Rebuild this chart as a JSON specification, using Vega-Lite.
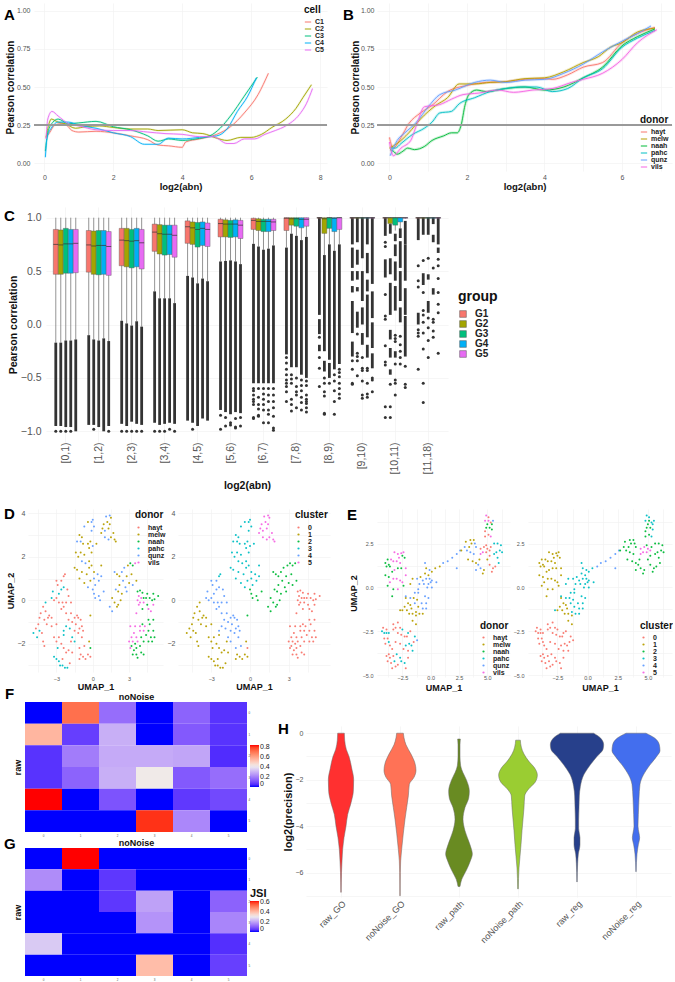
{"$schema":"https://vega.github.io/schema/vega-lite/v6.json","padding":{"left":-3,"top":0,"right":0,"bottom":0},"bounds":"flush","spacing":0,"background":"white","resolve":{"scale":{"color":"independent","fill":"independent"},"legend":{"color":"independent","fill":"independent"}},
"config":{"view":{"stroke":null},"font":"Liberation Sans","axis":{"domain":false,"ticks":false,"gridColor":"#f2f2f2","gridWidth":0.7,"labelColor":"#555555","labelFontSize":7,"titleFontWeight":"bold","titleFontSize":9.5,"titleColor":"#111111","labelFlush":false,"labelOverlap":false},"legend":{"padding":0,"titleFontWeight":"bold","titleColor":"#111111","labelFontWeight":"bold","labelColor":"#222222"},"title":{"fontSize":15,"fontWeight":"bold","color":"#000000","anchor":"start","frame":"group","offset":0,"baseline":"alphabetic"}},
"datasets":{
"a":[{"s":"C1","x":0.05,"y":0.17},{"s":"C1","x":0.15,"y":0.2},{"s":"C1","x":0.3,"y":0.25},{"s":"C1","x":0.5,"y":0.26},{"s":"C1","x":0.65,"y":0.25},{"s":"C1","x":0.8,"y":0.215},{"s":"C1","x":1,"y":0.205},{"s":"C1","x":1.5,"y":0.21},{"s":"C1","x":2,"y":0.2},{"s":"C1","x":2.5,"y":0.18},{"s":"C1","x":3,"y":0.155},{"s":"C1","x":3.3,"y":0.12},{"s":"C1","x":3.6,"y":0.115},{"s":"C1","x":4,"y":0.105},{"s":"C1","x":4.1,"y":0.14},{"s":"C1","x":4.5,"y":0.16},{"s":"C1","x":5,"y":0.19},{"s":"C1","x":5.4,"y":0.24},{"s":"C1","x":5.8,"y":0.33},{"s":"C1","x":6.2,"y":0.45},{"s":"C1","x":6.5,"y":0.59},
{"s":"C2","x":0.05,"y":0.17},{"s":"C2","x":0.15,"y":0.27},{"s":"C2","x":0.2,"y":0.29},{"s":"C2","x":0.4,"y":0.27},{"s":"C2","x":0.6,"y":0.26},{"s":"C2","x":0.9,"y":0.23},{"s":"C2","x":1.2,"y":0.24},{"s":"C2","x":1.6,"y":0.245},{"s":"C2","x":2,"y":0.235},{"s":"C2","x":2.5,"y":0.225},{"s":"C2","x":3,"y":0.225},{"s":"C2","x":3.3,"y":0.215},{"s":"C2","x":4,"y":0.22},{"s":"C2","x":4.3,"y":0.2},{"s":"C2","x":4.6,"y":0.195},{"s":"C2","x":5,"y":0.165},{"s":"C2","x":5.3,"y":0.15},{"s":"C2","x":5.7,"y":0.17},{"s":"C2","x":6,"y":0.17},{"s":"C2","x":6.3,"y":0.19},{"s":"C2","x":6.6,"y":0.235},{"s":"C2","x":7,"y":0.29},{"s":"C2","x":7.3,"y":0.36},{"s":"C2","x":7.5,"y":0.43},{"s":"C2","x":7.75,"y":0.515},
{"s":"C3","x":0.03,"y":0.08},{"s":"C3","x":0.1,"y":0.2},{"s":"C3","x":0.25,"y":0.27},{"s":"C3","x":0.4,"y":0.29},{"s":"C3","x":0.7,"y":0.26},{"s":"C3","x":1,"y":0.265},{"s":"C3","x":1.5,"y":0.275},{"s":"C3","x":2,"y":0.24},{"s":"C3","x":2.5,"y":0.22},{"s":"C3","x":3,"y":0.18},{"s":"C3","x":3.3,"y":0.145},{"s":"C3","x":3.6,"y":0.16},{"s":"C3","x":4,"y":0.15},{"s":"C3","x":4.4,"y":0.16},{"s":"C3","x":4.8,"y":0.18},{"s":"C3","x":5.1,"y":0.23},{"s":"C3","x":5.4,"y":0.31},{"s":"C3","x":5.8,"y":0.44},{"s":"C3","x":6.18,"y":0.565},
{"s":"C4","x":0.03,"y":0.04},{"s":"C4","x":0.08,"y":0.17},{"s":"C4","x":0.2,"y":0.23},{"s":"C4","x":0.4,"y":0.27},{"s":"C4","x":0.7,"y":0.27},{"s":"C4","x":1,"y":0.25},{"s":"C4","x":1.5,"y":0.23},{"s":"C4","x":2,"y":0.2},{"s":"C4","x":2.5,"y":0.175},{"s":"C4","x":2.9,"y":0.125},{"s":"C4","x":3.3,"y":0.125},{"s":"C4","x":3.6,"y":0.165},{"s":"C4","x":4,"y":0.16},{"s":"C4","x":4.5,"y":0.17},{"s":"C4","x":5,"y":0.18},{"s":"C4","x":5.3,"y":0.225},{"s":"C4","x":5.6,"y":0.34},{"s":"C4","x":5.9,"y":0.44},{"s":"C4","x":6.15,"y":0.56},
{"s":"C5","x":0.05,"y":0.16},{"s":"C5","x":0.1,"y":0.29},{"s":"C5","x":0.22,"y":0.34},{"s":"C5","x":0.4,"y":0.31},{"s":"C5","x":0.7,"y":0.26},{"s":"C5","x":1,"y":0.245},{"s":"C5","x":1.5,"y":0.22},{"s":"C5","x":2,"y":0.215},{"s":"C5","x":2.5,"y":0.215},{"s":"C5","x":3,"y":0.205},{"s":"C5","x":3.5,"y":0.195},{"s":"C5","x":4,"y":0.19},{"s":"C5","x":4.5,"y":0.175},{"s":"C5","x":4.9,"y":0.175},{"s":"C5","x":5.3,"y":0.13},{"s":"C5","x":5.5,"y":0.13},{"s":"C5","x":5.8,"y":0.16},{"s":"C5","x":6.1,"y":0.16},{"s":"C5","x":6.4,"y":0.19},{"s":"C5","x":6.7,"y":0.215},{"s":"C5","x":7,"y":0.245},{"s":"C5","x":7.4,"y":0.32},{"s":"C5","x":7.6,"y":0.39},{"s":"C5","x":7.78,"y":0.49}],
"b":[{"s":"hayt","x":0,"y":0.17},{"s":"hayt","x":0.1,"y":0.1},{"s":"hayt","x":0.3,"y":0.17},{"s":"hayt","x":0.5,"y":0.26},{"s":"hayt","x":0.8,"y":0.33},{"s":"hayt","x":1.1,"y":0.38},{"s":"hayt","x":1.5,"y":0.47},{"s":"hayt","x":2,"y":0.51},{"s":"hayt","x":2.5,"y":0.53},{"s":"hayt","x":3,"y":0.535},{"s":"hayt","x":3.5,"y":0.55},{"s":"hayt","x":4,"y":0.555},{"s":"hayt","x":4.2,"y":0.55},{"s":"hayt","x":4.6,"y":0.58},{"s":"hayt","x":5,"y":0.63},{"s":"hayt","x":5.5,"y":0.66},{"s":"hayt","x":6,"y":0.79},{"s":"hayt","x":6.4,"y":0.85},{"s":"hayt","x":6.85,"y":0.89},
{"s":"melw","x":0,"y":0.1},{"s":"melw","x":0.2,"y":0.13},{"s":"melw","x":0.5,"y":0.2},{"s":"melw","x":0.8,"y":0.29},{"s":"melw","x":1.2,"y":0.38},{"s":"melw","x":1.5,"y":0.43},{"s":"melw","x":1.8,"y":0.52},{"s":"melw","x":2.2,"y":0.52},{"s":"melw","x":2.6,"y":0.53},{"s":"melw","x":3,"y":0.535},{"s":"melw","x":3.5,"y":0.555},{"s":"melw","x":4,"y":0.56},{"s":"melw","x":4.5,"y":0.6},{"s":"melw","x":5,"y":0.66},{"s":"melw","x":5.4,"y":0.7},{"s":"melw","x":5.7,"y":0.76},{"s":"melw","x":6,"y":0.79},{"s":"melw","x":6.4,"y":0.86},{"s":"melw","x":6.85,"y":0.885},
{"s":"naah","x":0.02,"y":0.09},{"s":"naah","x":0.1,"y":0.08},{"s":"naah","x":0.2,"y":0.06},{"s":"naah","x":0.35,"y":0.08},{"s":"naah","x":0.47,"y":0.1},{"s":"naah","x":0.65,"y":0.09},{"s":"naah","x":0.9,"y":0.11},{"s":"naah","x":1.1,"y":0.15},{"s":"naah","x":1.4,"y":0.18},{"s":"naah","x":1.6,"y":0.2},{"s":"naah","x":1.75,"y":0.2},{"s":"naah","x":1.85,"y":0.25},{"s":"naah","x":1.95,"y":0.38},{"s":"naah","x":2.05,"y":0.45},{"s":"naah","x":2.25,"y":0.48},{"s":"naah","x":2.5,"y":0.47},{"s":"naah","x":3,"y":0.49},{"s":"naah","x":3.5,"y":0.5},{"s":"naah","x":4,"y":0.48},{"s":"naah","x":4.5,"y":0.5},{"s":"naah","x":5,"y":0.56},{"s":"naah","x":5.5,"y":0.63},{"s":"naah","x":6,"y":0.77},{"s":"naah","x":6.4,"y":0.83},{"s":"naah","x":6.85,"y":0.88},
{"s":"pahc","x":0.02,"y":0.1},{"s":"pahc","x":0.15,"y":0.1},{"s":"pahc","x":0.3,"y":0.13},{"s":"pahc","x":0.6,"y":0.19},{"s":"pahc","x":0.9,"y":0.23},{"s":"pahc","x":1.1,"y":0.27},{"s":"pahc","x":1.3,"y":0.33},{"s":"pahc","x":1.6,"y":0.34},{"s":"pahc","x":1.8,"y":0.39},{"s":"pahc","x":2.2,"y":0.43},{"s":"pahc","x":2.6,"y":0.47},{"s":"pahc","x":3,"y":0.49},{"s":"pahc","x":3.4,"y":0.5},{"s":"pahc","x":3.8,"y":0.5},{"s":"pahc","x":4.2,"y":0.47},{"s":"pahc","x":4.6,"y":0.49},{"s":"pahc","x":5,"y":0.56},{"s":"pahc","x":5.5,"y":0.62},{"s":"pahc","x":6,"y":0.76},{"s":"pahc","x":6.4,"y":0.82},{"s":"pahc","x":6.85,"y":0.87},
{"s":"qunz","x":0.02,"y":0.05},{"s":"qunz","x":0.2,"y":0.15},{"s":"qunz","x":0.4,"y":0.2},{"s":"qunz","x":0.7,"y":0.27},{"s":"qunz","x":1,"y":0.37},{"s":"qunz","x":1.3,"y":0.45},{"s":"qunz","x":1.7,"y":0.48},{"s":"qunz","x":2.2,"y":0.53},{"s":"qunz","x":2.6,"y":0.545},{"s":"qunz","x":3,"y":0.53},{"s":"qunz","x":3.5,"y":0.545},{"s":"qunz","x":4,"y":0.55},{"s":"qunz","x":4.5,"y":0.59},{"s":"qunz","x":5,"y":0.65},{"s":"qunz","x":5.5,"y":0.73},{"s":"qunz","x":6,"y":0.8},{"s":"qunz","x":6.4,"y":0.85},{"s":"qunz","x":6.75,"y":0.9},
{"s":"vils","x":0,"y":0.14},{"s":"vils","x":0.1,"y":0.05},{"s":"vils","x":0.3,"y":0.1},{"s":"vils","x":0.55,"y":0.15},{"s":"vils","x":0.7,"y":0.25},{"s":"vils","x":0.9,"y":0.37},{"s":"vils","x":1.3,"y":0.385},{"s":"vils","x":1.6,"y":0.42},{"s":"vils","x":1.9,"y":0.45},{"s":"vils","x":2.3,"y":0.46},{"s":"vils","x":2.8,"y":0.48},{"s":"vils","x":3.2,"y":0.465},{"s":"vils","x":3.7,"y":0.48},{"s":"vils","x":4.2,"y":0.49},{"s":"vils","x":4.7,"y":0.53},{"s":"vils","x":5,"y":0.55},{"s":"vils","x":5.5,"y":0.59},{"s":"vils","x":6,"y":0.68},{"s":"vils","x":6.4,"y":0.79},{"s":"vils","x":6.9,"y":0.875}],
"box":[{"b":"[0,1)","g":"G1","lo":-0.17,"q1":0.47,"m":0.75,"q3":0.89,"hi":1},{"b":"[0,1)","g":"G2","lo":-0.17,"q1":0.47,"m":0.745,"q3":0.885,"hi":1},{"b":"[0,1)","g":"G3","lo":-0.15,"q1":0.48,"m":0.755,"q3":0.9,"hi":1},{"b":"[0,1)","g":"G4","lo":-0.15,"q1":0.48,"m":0.755,"q3":0.89,"hi":1},{"b":"[0,1)","g":"G5","lo":-0.14,"q1":0.485,"m":0.76,"q3":0.89,"hi":1},
{"b":"[1,2)","g":"G1","lo":-0.1,"q1":0.49,"m":0.745,"q3":0.88,"hi":1},{"b":"[1,2)","g":"G2","lo":-0.14,"q1":0.47,"m":0.735,"q3":0.875,"hi":1},{"b":"[1,2)","g":"G3","lo":-0.15,"q1":0.465,"m":0.74,"q3":0.88,"hi":1},{"b":"[1,2)","g":"G4","lo":-0.13,"q1":0.47,"m":0.74,"q3":0.88,"hi":1},{"b":"[1,2)","g":"G5","lo":-0.155,"q1":0.46,"m":0.73,"q3":0.87,"hi":1},
{"b":"[2,3)","g":"G1","lo":0.035,"q1":0.55,"m":0.79,"q3":0.9,"hi":1},{"b":"[2,3)","g":"G2","lo":0.01,"q1":0.54,"m":0.785,"q3":0.9,"hi":1},{"b":"[2,3)","g":"G3","lo":-0.01,"q1":0.53,"m":0.78,"q3":0.89,"hi":1},{"b":"[2,3)","g":"G4","lo":0.03,"q1":0.54,"m":0.785,"q3":0.9,"hi":1},{"b":"[2,3)","g":"G5","lo":-0.02,"q1":0.52,"m":0.765,"q3":0.89,"hi":1},
{"b":"[3,4)","g":"G1","lo":0.31,"q1":0.685,"m":0.865,"q3":0.94,"hi":1},{"b":"[3,4)","g":"G2","lo":0.245,"q1":0.66,"m":0.85,"q3":0.935,"hi":1},{"b":"[3,4)","g":"G3","lo":0.245,"q1":0.65,"m":0.845,"q3":0.93,"hi":1},{"b":"[3,4)","g":"G4","lo":0.245,"q1":0.655,"m":0.845,"q3":0.93,"hi":1},{"b":"[3,4)","g":"G5","lo":0.2,"q1":0.63,"m":0.835,"q3":0.93,"hi":1},
{"b":"[4,5)","g":"G1","lo":0.455,"q1":0.76,"m":0.915,"q3":0.97,"hi":1},{"b":"[4,5)","g":"G2","lo":0.44,"q1":0.75,"m":0.905,"q3":0.96,"hi":1},{"b":"[4,5)","g":"G3","lo":0.385,"q1":0.725,"m":0.89,"q3":0.955,"hi":1},{"b":"[4,5)","g":"G4","lo":0.43,"q1":0.74,"m":0.9,"q3":0.96,"hi":1},{"b":"[4,5)","g":"G5","lo":0.405,"q1":0.73,"m":0.89,"q3":0.95,"hi":1},
{"b":"[5,6)","g":"G1","lo":0.59,"q1":0.82,"m":0.945,"q3":0.985,"hi":1},{"b":"[5,6)","g":"G2","lo":0.595,"q1":0.82,"m":0.94,"q3":0.98,"hi":1},{"b":"[5,6)","g":"G3","lo":0.6,"q1":0.815,"m":0.94,"q3":0.975,"hi":1},{"b":"[5,6)","g":"G4","lo":0.59,"q1":0.82,"m":0.94,"q3":0.98,"hi":1},{"b":"[5,6)","g":"G5","lo":0.565,"q1":0.805,"m":0.93,"q3":0.975,"hi":1},
{"b":"[6,7)","g":"G1","lo":0.755,"q1":0.89,"m":0.975,"q3":0.995,"hi":1},{"b":"[6,7)","g":"G2","lo":0.73,"q1":0.88,"m":0.965,"q3":0.99,"hi":1},{"b":"[6,7)","g":"G3","lo":0.7,"q1":0.87,"m":0.965,"q3":0.985,"hi":1},{"b":"[6,7)","g":"G4","lo":0.71,"q1":0.87,"m":0.965,"q3":0.985,"hi":1},{"b":"[6,7)","g":"G5","lo":0.74,"q1":0.88,"m":0.96,"q3":0.985,"hi":1},
{"b":"[7,8)","g":"G1","lo":0.72,"q1":0.88,"m":0.995,"q3":1,"hi":1},{"b":"[7,8)","g":"G2","lo":0.85,"q1":0.93,"m":0.99,"q3":1,"hi":1},{"b":"[7,8)","g":"G3","lo":0.83,"q1":0.92,"m":0.99,"q3":1,"hi":1},{"b":"[7,8)","g":"G4","lo":0.79,"q1":0.905,"m":0.985,"q3":1,"hi":1},{"b":"[7,8)","g":"G5","lo":0.82,"q1":0.92,"m":0.985,"q3":1,"hi":1},
{"b":"[8,9)","g":"G1","lo":0.99,"q1":0.995,"m":1,"q3":1,"hi":1},{"b":"[8,9)","g":"G2","lo":0.65,"q1":0.853,"m":0.99,"q3":1,"hi":1},{"b":"[8,9)","g":"G3","lo":0.75,"q1":0.9,"m":1,"q3":1,"hi":1},{"b":"[8,9)","g":"G4","lo":0.69,"q1":0.87,"m":0.995,"q3":1,"hi":1},{"b":"[8,9)","g":"G5","lo":0.75,"q1":0.89,"m":1,"q3":1,"hi":1},
{"b":"[9,10)","g":"G1","lo":0.99,"q1":0.995,"m":1,"q3":1,"hi":1},{"b":"[9,10)","g":"G2","lo":0.99,"q1":0.995,"m":1,"q3":1,"hi":1},{"b":"[9,10)","g":"G3","lo":0.99,"q1":0.995,"m":1,"q3":1,"hi":1},{"b":"[9,10)","g":"G4","lo":0.99,"q1":0.995,"m":1,"q3":1,"hi":1},{"b":"[9,10)","g":"G5","lo":0.99,"q1":0.995,"m":1,"q3":1,"hi":1},
{"b":"[10,11)","g":"G1","lo":0.99,"q1":0.995,"m":1,"q3":1,"hi":1},{"b":"[10,11)","g":"G2","lo":0.94,"q1":0.945,"m":1,"q3":1,"hi":1},{"b":"[10,11)","g":"G3","lo":0.88,"q1":0.93,"m":1,"q3":1,"hi":1},{"b":"[10,11)","g":"G4","lo":0.9,"q1":0.96,"m":1,"q3":1,"hi":1},{"b":"[10,11)","g":"G5","lo":0.99,"q1":0.995,"m":1,"q3":1,"hi":1},
{"b":"[11,18)","g":"G1","lo":0.99,"q1":0.995,"m":1,"q3":1,"hi":1},{"b":"[11,18)","g":"G2","lo":0.99,"q1":0.995,"m":1,"q3":1,"hi":1},{"b":"[11,18)","g":"G3","lo":0.99,"q1":0.995,"m":1,"q3":1,"hi":1},{"b":"[11,18)","g":"G4","lo":0.99,"q1":0.995,"m":1,"q3":1,"hi":1},{"b":"[11,18)","g":"G5","lo":0.99,"q1":0.995,"m":1,"q3":1,"hi":1}],
"seg":[{"b":"[0,1)","g":"G1","a":-0.17,"z":-0.95},{"b":"[0,1)","g":"G2","a":-0.17,"z":-0.95},{"b":"[0,1)","g":"G3","a":-0.15,"z":-0.96},{"b":"[0,1)","g":"G4","a":-0.15,"z":-0.96},{"b":"[0,1)","g":"G5","a":-0.14,"z":-1},
{"b":"[1,2)","g":"G1","a":-0.1,"z":-0.94},{"b":"[1,2)","g":"G2","a":-0.14,"z":-0.94},{"b":"[1,2)","g":"G3","a":-0.15,"z":-0.96},{"b":"[1,2)","g":"G4","a":-0.13,"z":-1},{"b":"[1,2)","g":"G5","a":-0.155,"z":-0.95},
{"b":"[2,3)","g":"G1","a":0.035,"z":-0.93},{"b":"[2,3)","g":"G2","a":0.01,"z":-0.95},{"b":"[2,3)","g":"G3","a":-0.01,"z":-0.91},{"b":"[2,3)","g":"G4","a":0.03,"z":-0.93},{"b":"[2,3)","g":"G5","a":-0.02,"z":-0.94},
{"b":"[3,4)","g":"G1","a":0.31,"z":-0.92},{"b":"[3,4)","g":"G2","a":0.245,"z":-0.94},{"b":"[3,4)","g":"G3","a":0.245,"z":-0.93},{"b":"[3,4)","g":"G4","a":0.245,"z":-0.92},{"b":"[3,4)","g":"G5","a":0.2,"z":-0.93},
{"b":"[4,5)","g":"G1","a":0.455,"z":-0.9},{"b":"[4,5)","g":"G2","a":0.44,"z":-0.92},{"b":"[4,5)","g":"G3","a":0.385,"z":-0.95},{"b":"[4,5)","g":"G4","a":0.43,"z":-0.88},{"b":"[4,5)","g":"G5","a":0.405,"z":-0.9},
{"b":"[5,6)","g":"G1","a":0.59,"z":-0.8},{"b":"[5,6)","g":"G2","a":0.595,"z":-0.82},{"b":"[5,6)","g":"G3","a":0.6,"z":-0.84},{"b":"[5,6)","g":"G4","a":0.59,"z":-0.82},{"b":"[5,6)","g":"G5","a":0.565,"z":-0.83},
{"b":"[6,7)","g":"G1","a":0.755,"z":-0.55},{"b":"[6,7)","g":"G2","a":0.73,"z":-0.55},{"b":"[6,7)","g":"G3","a":0.7,"z":-0.55},{"b":"[6,7)","g":"G4","a":0.71,"z":-0.55},{"b":"[6,7)","g":"G5","a":0.74,"z":-0.55},
{"b":"[7,8)","g":"G1","a":0.72,"z":-0.28},{"b":"[7,8)","g":"G2","a":0.85,"z":-0.4},{"b":"[7,8)","g":"G3","a":0.83,"z":-0.4},{"b":"[7,8)","g":"G4","a":0.79,"z":-0.47},{"b":"[7,8)","g":"G5","a":0.82,"z":-0.5},
{"b":"[8,9)","g":"G1","a":1,"z":0.09},{"b":"[8,9)","g":"G1","a":0.05,"z":-0.09},{"b":"[8,9)","g":"G1","a":-0.19,"z":-0.25},{"b":"[8,9)","g":"G2","a":0.65,"z":-0.25},{"b":"[8,9)","g":"G2","a":-0.34,"z":-0.44},{"b":"[8,9)","g":"G3","a":0.75,"z":-0.33},{"b":"[8,9)","g":"G3","a":-0.36,"z":-0.5},{"b":"[8,9)","g":"G4","a":0.69,"z":-0.42},{"b":"[8,9)","g":"G5","a":0.75,"z":-0.37},
{"b":"[9,10)","g":"G1","a":1,"z":0.75},{"b":"[9,10)","g":"G1","a":0.72,"z":0.53},{"b":"[9,10)","g":"G1","a":0.5,"z":0.41},{"b":"[9,10)","g":"G1","a":0.36,"z":0.3},{"b":"[9,10)","g":"G1","a":0.22,"z":-0.08},{"b":"[9,10)","g":"G1","a":-0.16,"z":-0.3},
{"b":"[9,10)","g":"G2","a":1,"z":0.77},{"b":"[9,10)","g":"G2","a":0.7,"z":0.56},{"b":"[9,10)","g":"G2","a":0.5,"z":0.42},{"b":"[9,10)","g":"G2","a":0.35,"z":0.31},{"b":"[9,10)","g":"G2","a":0.12,"z":-0.03},
{"b":"[9,10)","g":"G3","a":1,"z":0.62},{"b":"[9,10)","g":"G3","a":0.5,"z":0.22},{"b":"[9,10)","g":"G3","a":0.16,"z":0},{"b":"[9,10)","g":"G3","a":-0.08,"z":-0.19},
{"b":"[9,10)","g":"G4","a":1,"z":0.75},{"b":"[9,10)","g":"G4","a":0.67,"z":0.48},{"b":"[9,10)","g":"G4","a":0.42,"z":0.31},{"b":"[9,10)","g":"G4","a":0.28,"z":-0.12},{"b":"[9,10)","g":"G4","a":-0.19,"z":-0.31},
{"b":"[9,10)","g":"G5","a":1,"z":0.38},{"b":"[9,10)","g":"G5","a":0.31,"z":0.06},{"b":"[9,10)","g":"G5","a":0.02,"z":-0.22},{"b":"[9,10)","g":"G5","a":-0.27,"z":-0.41},
{"b":"[10,11)","g":"G1","a":1,"z":0.83},{"b":"[10,11)","g":"G1","a":0.61,"z":0.44},{"b":"[10,11)","g":"G2","a":0.94,"z":0.85},{"b":"[10,11)","g":"G2","a":0.62,"z":0.47},{"b":"[10,11)","g":"G2","a":0.39,"z":0.09},{"b":"[10,11)","g":"G2","a":-0.05,"z":-0.14},{"b":"[10,11)","g":"G2","a":-0.22,"z":-0.31},{"b":"[10,11)","g":"G2","a":-0.42,"z":-0.47},
{"b":"[10,11)","g":"G3","a":0.85,"z":0.78},{"b":"[10,11)","g":"G3","a":0.75,"z":0.64},{"b":"[10,11)","g":"G3","a":0.59,"z":0.41},{"b":"[10,11)","g":"G3","a":0.36,"z":0.13},{"b":"[10,11)","g":"G3","a":-0.25,"z":-0.31},
{"b":"[10,11)","g":"G4","a":0.9,"z":0.81},{"b":"[10,11)","g":"G4","a":0.78,"z":0.53},{"b":"[10,11)","g":"G4","a":0.5,"z":0.22},{"b":"[10,11)","g":"G4","a":0.16,"z":0.02},
{"b":"[10,11)","g":"G5","a":0.97,"z":0.75},{"b":"[10,11)","g":"G5","a":0.75,"z":0.41},{"b":"[10,11)","g":"G5","a":0.34,"z":0.09},{"b":"[10,11)","g":"G5","a":0.08,"z":-0.3},
{"b":"[11,18)","g":"G1","a":1,"z":0.79},{"b":"[11,18)","g":"G1","a":0.11,"z":0},{"b":"[11,18)","g":"G2","a":1,"z":0.84},{"b":"[11,18)","g":"G2","a":0.48,"z":0.37},{"b":"[11,18)","g":"G3","a":1,"z":0.84},{"b":"[11,18)","g":"G3","a":0.47,"z":0.42},{"b":"[11,18)","g":"G3","a":0.22,"z":0.11},{"b":"[11,18)","g":"G4","a":1,"z":0.94},{"b":"[11,18)","g":"G4","a":0.84,"z":0.77},{"b":"[11,18)","g":"G4","a":0.34,"z":0.28},{"b":"[11,18)","g":"G5","a":1,"z":0.75},{"b":"[11,18)","g":"G5","a":0.72,"z":0.67}],
"pts":[{"b":"[0,1)","g":"G1","v":-1},{"b":"[0,1)","g":"G2","v":-1},{"b":"[0,1)","g":"G3","v":-1},{"b":"[0,1)","g":"G4","v":-1},{"b":"[1,2)","g":"G2","v":-0.98},{"b":"[1,2)","g":"G5","v":-1},{"b":"[2,3)","g":"G1","v":-1},{"b":"[2,3)","g":"G2","v":-1},{"b":"[2,3)","g":"G3","v":-1},{"b":"[2,3)","g":"G4","v":-1},{"b":"[2,3)","g":"G5","v":-1},{"b":"[3,4)","g":"G1","v":-1},{"b":"[3,4)","g":"G2","v":-1},{"b":"[3,4)","g":"G3","v":-1},{"b":"[3,4)","g":"G4","v":-0.98},{"b":"[3,4)","g":"G5","v":-1},{"b":"[4,5)","g":"G2","v":-0.98},{"b":"[5,6)","g":"G1","v":-0.98},{"b":"[5,6)","g":"G1","v":-0.85},{"b":"[5,6)","g":"G2","v":-0.95},{"b":"[5,6)","g":"G2","v":-0.87},{"b":"[5,6)","g":"G3","v":-0.92},{"b":"[5,6)","g":"G3","v":-0.94},{"b":"[5,6)","g":"G4","v":-0.88},{"b":"[5,6)","g":"G4","v":-0.96},{"b":"[5,6)","g":"G4","v":-0.97},{"b":"[5,6)","g":"G5","v":-0.87},{"b":"[5,6)","g":"G5","v":-0.95},
{"b":"[6,7)","g":"G1","v":-0.6},{"b":"[6,7)","g":"G1","v":-0.62},{"b":"[6,7)","g":"G1","v":-0.66},{"b":"[6,7)","g":"G1","v":-0.7},{"b":"[6,7)","g":"G1","v":-0.72},{"b":"[6,7)","g":"G1","v":-0.75},{"b":"[6,7)","g":"G1","v":-0.87},{"b":"[6,7)","g":"G1","v":-0.88},{"b":"[6,7)","g":"G2","v":-0.6},{"b":"[6,7)","g":"G2","v":-0.68},{"b":"[6,7)","g":"G2","v":-0.75},{"b":"[6,7)","g":"G2","v":-0.79},{"b":"[6,7)","g":"G2","v":-0.85},{"b":"[6,7)","g":"G2","v":-0.86},{"b":"[6,7)","g":"G3","v":-0.6},{"b":"[6,7)","g":"G3","v":-0.65},{"b":"[6,7)","g":"G3","v":-0.7},{"b":"[6,7)","g":"G3","v":-0.75},{"b":"[6,7)","g":"G3","v":-0.8},{"b":"[6,7)","g":"G3","v":-0.92},{"b":"[6,7)","g":"G4","v":-0.6},{"b":"[6,7)","g":"G4","v":-0.66},{"b":"[6,7)","g":"G4","v":-0.72},{"b":"[6,7)","g":"G4","v":-0.8},{"b":"[6,7)","g":"G4","v":-0.84},{"b":"[6,7)","g":"G4","v":-0.92},{"b":"[6,7)","g":"G5","v":-0.6},{"b":"[6,7)","g":"G5","v":-0.66},{"b":"[6,7)","g":"G5","v":-0.72},{"b":"[6,7)","g":"G5","v":-0.78},{"b":"[6,7)","g":"G5","v":-0.86},{"b":"[6,7)","g":"G5","v":-0.97},{"b":"[6,7)","g":"G5","v":-0.99},
{"b":"[7,8)","g":"G1","v":-0.31},{"b":"[7,8)","g":"G1","v":-0.36},{"b":"[7,8)","g":"G1","v":-0.42},{"b":"[7,8)","g":"G1","v":-0.47},{"b":"[7,8)","g":"G1","v":-0.52},{"b":"[7,8)","g":"G1","v":-0.55},{"b":"[7,8)","g":"G1","v":-0.58},{"b":"[7,8)","g":"G1","v":-0.63},{"b":"[7,8)","g":"G1","v":-0.72},{"b":"[7,8)","g":"G2","v":-0.47},{"b":"[7,8)","g":"G2","v":-0.51},{"b":"[7,8)","g":"G2","v":-0.55},{"b":"[7,8)","g":"G2","v":-0.7},{"b":"[7,8)","g":"G2","v":-0.75},{"b":"[7,8)","g":"G2","v":-0.81},{"b":"[7,8)","g":"G3","v":-0.5},{"b":"[7,8)","g":"G3","v":-0.58},{"b":"[7,8)","g":"G3","v":-0.63},{"b":"[7,8)","g":"G3","v":-0.66},{"b":"[7,8)","g":"G3","v":-0.78},{"b":"[7,8)","g":"G4","v":-0.52},{"b":"[7,8)","g":"G4","v":-0.57},{"b":"[7,8)","g":"G4","v":-0.62},{"b":"[7,8)","g":"G4","v":-0.68},{"b":"[7,8)","g":"G4","v":-0.73},{"b":"[7,8)","g":"G4","v":-0.8},{"b":"[7,8)","g":"G5","v":-0.53},{"b":"[7,8)","g":"G5","v":-0.57},{"b":"[7,8)","g":"G5","v":-0.66},{"b":"[7,8)","g":"G5","v":-0.7},{"b":"[7,8)","g":"G5","v":-0.72},{"b":"[7,8)","g":"G5","v":-0.74},{"b":"[7,8)","g":"G5","v":-0.78},{"b":"[7,8)","g":"G5","v":-0.82},
{"b":"[8,9)","g":"G1","v":-0.12},{"b":"[8,9)","g":"G1","v":-0.31},{"b":"[8,9)","g":"G1","v":-0.41},{"b":"[8,9)","g":"G1","v":-0.58},{"b":"[8,9)","g":"G2","v":-0.5},{"b":"[8,9)","g":"G2","v":-0.55},{"b":"[8,9)","g":"G2","v":-0.63},{"b":"[8,9)","g":"G2","v":-0.67},{"b":"[8,9)","g":"G2","v":-0.83},{"b":"[8,9)","g":"G2","v":-0.84},{"b":"[8,9)","g":"G3","v":-0.55},{"b":"[8,9)","g":"G4","v":-0.47},{"b":"[8,9)","g":"G4","v":-0.53},{"b":"[8,9)","g":"G4","v":-0.62},{"b":"[8,9)","g":"G4","v":-0.72},{"b":"[8,9)","g":"G4","v":-0.84},{"b":"[8,9)","g":"G5","v":-0.42},{"b":"[8,9)","g":"G5","v":-0.45},{"b":"[8,9)","g":"G5","v":-0.49},{"b":"[8,9)","g":"G5","v":-0.55},{"b":"[8,9)","g":"G5","v":-0.6},{"b":"[8,9)","g":"G5","v":-0.65},{"b":"[8,9)","g":"G5","v":-0.69},
{"b":"[9,10)","g":"G1","v":-0.34},{"b":"[9,10)","g":"G1","v":-0.42},{"b":"[9,10)","g":"G1","v":-0.55},{"b":"[9,10)","g":"G1","v":-0.56},{"b":"[9,10)","g":"G2","v":-0.09},{"b":"[9,10)","g":"G2","v":-0.27},{"b":"[9,10)","g":"G2","v":-0.3},{"b":"[9,10)","g":"G2","v":-0.34},{"b":"[9,10)","g":"G2","v":-0.48},{"b":"[9,10)","g":"G3","v":-0.31},{"b":"[9,10)","g":"G3","v":-0.41},{"b":"[9,10)","g":"G3","v":-0.43},{"b":"[9,10)","g":"G3","v":-0.53},{"b":"[9,10)","g":"G3","v":-0.66},{"b":"[9,10)","g":"G3","v":-0.69},{"b":"[9,10)","g":"G4","v":-0.41},{"b":"[9,10)","g":"G4","v":-0.43},{"b":"[9,10)","g":"G4","v":-0.55},{"b":"[9,10)","g":"G4","v":-0.65},{"b":"[9,10)","g":"G4","v":-0.68},{"b":"[9,10)","g":"G5","v":-0.5},{"b":"[9,10)","g":"G5","v":-0.52},{"b":"[9,10)","g":"G5","v":-0.63},
{"b":"[10,11)","g":"G1","v":0.77},{"b":"[10,11)","g":"G1","v":0.73},{"b":"[10,11)","g":"G1","v":0.28},{"b":"[10,11)","g":"G1","v":0.08},{"b":"[10,11)","g":"G1","v":0.05},{"b":"[10,11)","g":"G1","v":-0.2},{"b":"[10,11)","g":"G1","v":-0.35},{"b":"[10,11)","g":"G1","v":-0.38},{"b":"[10,11)","g":"G1","v":-0.77},{"b":"[10,11)","g":"G1","v":-0.87},{"b":"[10,11)","g":"G2","v":-0.56},{"b":"[10,11)","g":"G2","v":-0.77},{"b":"[10,11)","g":"G2","v":-0.87},{"b":"[10,11)","g":"G3","v":-0.1},{"b":"[10,11)","g":"G3","v":-0.13},{"b":"[10,11)","g":"G3","v":-0.16},{"b":"[10,11)","g":"G3","v":-0.37},{"b":"[10,11)","g":"G3","v":-0.52},{"b":"[10,11)","g":"G3","v":-0.55},{"b":"[10,11)","g":"G3","v":-0.66},{"b":"[10,11)","g":"G4","v":-0.11},{"b":"[10,11)","g":"G4","v":-0.19},{"b":"[10,11)","g":"G4","v":-0.25},{"b":"[10,11)","g":"G4","v":-0.31},{"b":"[10,11)","g":"G4","v":-0.37},{"b":"[10,11)","g":"G5","v":-0.39},{"b":"[10,11)","g":"G5","v":-0.56},{"b":"[10,11)","g":"G5","v":-0.59},
{"b":"[11,18)","g":"G1","v":0.55},{"b":"[11,18)","g":"G1","v":0.41},{"b":"[11,18)","g":"G1","v":0.35},{"b":"[11,18)","g":"G1","v":-0.05},{"b":"[11,18)","g":"G1","v":-0.08},{"b":"[11,18)","g":"G1","v":-0.11},{"b":"[11,18)","g":"G1","v":-0.42},{"b":"[11,18)","g":"G2","v":0.6},{"b":"[11,18)","g":"G2","v":0.3},{"b":"[11,18)","g":"G2","v":0.13},{"b":"[11,18)","g":"G2","v":0.09},{"b":"[11,18)","g":"G2","v":0.02},{"b":"[11,18)","g":"G2","v":-0.08},{"b":"[11,18)","g":"G2","v":-0.23},{"b":"[11,18)","g":"G2","v":-0.55},{"b":"[11,18)","g":"G2","v":-0.73},{"b":"[11,18)","g":"G3","v":0.62},{"b":"[11,18)","g":"G3","v":0.06},{"b":"[11,18)","g":"G3","v":-0.03},{"b":"[11,18)","g":"G3","v":-0.15},{"b":"[11,18)","g":"G3","v":-0.31},{"b":"[11,18)","g":"G4","v":0.53},{"b":"[11,18)","g":"G4","v":0.05},{"b":"[11,18)","g":"G4","v":0.02},{"b":"[11,18)","g":"G4","v":-0.06},{"b":"[11,18)","g":"G4","v":-0.12},{"b":"[11,18)","g":"G5","v":0.61},{"b":"[11,18)","g":"G5","v":0.55},{"b":"[11,18)","g":"G5","v":0.43},{"b":"[11,18)","g":"G5","v":0.3},{"b":"[11,18)","g":"G5","v":0.19},{"b":"[11,18)","g":"G5","v":0.11},{"b":"[11,18)","g":"G5","v":-0.27}],
"d":[{"x":-4.9,"y":-1.5,"d":"pahc","c":"1"},{"x":-4.7,"y":-1.3,"d":"hayt","c":"1"},{"x":-4.6,"y":-1.7,"d":"pahc","c":"1"},{"x":-4.5,"y":-1.1,"d":"hayt","c":"1"},{"x":-4.4,"y":-0.8,"d":"hayt","c":"1"},{"x":-4.4,"y":-1.4,"d":"pahc","c":"1"},{"x":-4.3,"y":-0.6,"d":"hayt","c":"1"},{"x":-4.2,"y":-1.5,"d":"hayt","c":"1"},{"x":-4.1,"y":-0.3,"d":"hayt","c":"1"},{"x":-4,"y":-0.9,"d":"hayt","c":"1"},{"x":-3.9,"y":-0.5,"d":"hayt","c":"1"},{"x":-3.8,"y":-1.1,"d":"hayt","c":"1"},{"x":-3.7,"y":-0.8,"d":"hayt","c":"1"},{"x":-3.6,"y":-0.7,"d":"hayt","c":"1"},{"x":-3.4,"y":-0.8,"d":"hayt","c":"1"},{"x":-3.9,"y":-0.1,"d":"pahc","c":"1"},{"x":-4.1,"y":-1.9,"d":"hayt","c":"1"},{"x":-4,"y":-2.1,"d":"hayt","c":"1"},{"x":-3.4,"y":-1.2,"d":"hayt","c":"1"},{"x":-3,"y":-1.1,"d":"hayt","c":"1"},{"x":-3.2,"y":-1.7,"d":"hayt","c":"1"},{"x":-3,"y":-1.9,"d":"hayt","c":"1"},{"x":-2.8,"y":-1.7,"d":"hayt","c":"1"},{"x":-2.9,"y":-2.2,"d":"pahc","c":"1"},{"x":-2.6,"y":-2,"d":"hayt","c":"1"},{"x":-2.4,"y":-2.2,"d":"hayt","c":"1"},{"x":-2.4,"y":-1.6,"d":"pahc","c":"1"},{"x":-2.2,"y":-2.4,"d":"hayt","c":"1"},{"x":-2,"y":-2.3,"d":"hayt","c":"1"},{"x":-1.8,"y":-1.9,"d":"hayt","c":"1"},{"x":-1.7,"y":-2.4,"d":"hayt","c":"1"},{"x":-3.2,"y":-2.6,"d":"pahc","c":"1"},{"x":-3,"y":-2.7,"d":"pahc","c":"1"},{"x":-2.8,"y":-2.8,"d":"pahc","c":"1"},{"x":-2.7,"y":-3,"d":"pahc","c":"1"},{"x":-2.5,"y":-3,"d":"pahc","c":"1"},{"x":-2.3,"y":-3.1,"d":"pahc","c":"1"},{"x":-2.1,"y":-3.1,"d":"pahc","c":"1"},{"x":-2.5,"y":-2.7,"d":"hayt","c":"1"},{"x":-1.9,"y":-2.9,"d":"hayt","c":"1"},{"x":-1.1,"y":-2.7,"d":"hayt","c":"1"},{"x":-1,"y":-2.5,"d":"hayt","c":"1"},{"x":-0.8,"y":-2.6,"d":"hayt","c":"1"},{"x":-0.6,"y":-2.7,"d":"hayt","c":"1"},{"x":-0.4,"y":-2.5,"d":"hayt","c":"1"},{"x":-0.2,"y":-2.6,"d":"hayt","c":"1"},
{"x":-2.2,"y":-0.6,"d":"hayt","c":"4"},{"x":-2,"y":-0.9,"d":"hayt","c":"4"},{"x":-1.8,"y":-0.6,"d":"hayt","c":"4"},{"x":-1.7,"y":-1,"d":"hayt","c":"4"},{"x":-2.2,"y":-1.2,"d":"pahc","c":"4"},{"x":-2.4,"y":-1.4,"d":"pahc","c":"4"},{"x":-1.9,"y":-1.3,"d":"pahc","c":"4"},{"x":-1.5,"y":-0.8,"d":"hayt","c":"4"},{"x":-1.4,"y":-1.1,"d":"hayt","c":"4"},{"x":-1.3,"y":-0.7,"d":"hayt","c":"4"},{"x":-1.2,"y":-0.8,"d":"hayt","c":"4"},{"x":-1.1,"y":-1.3,"d":"hayt","c":"4"},{"x":-1,"y":-0.9,"d":"hayt","c":"4"},{"x":-0.9,"y":-1.2,"d":"hayt","c":"4"},{"x":-0.8,"y":-1.4,"d":"hayt","c":"4"},{"x":-1.5,"y":-1.4,"d":"hayt","c":"4"},{"x":-1.2,"y":-1.5,"d":"hayt","c":"4"},{"x":-1.7,"y":-1.7,"d":"pahc","c":"4"},{"x":-0.9,"y":-1.7,"d":"hayt","c":"4"},{"x":-0.7,"y":-2.1,"d":"hayt","c":"4"},{"x":-1.1,"y":-2.2,"d":"hayt","c":"4"},{"x":-1.5,"y":-1.9,"d":"pahc","c":"4"},{"x":-3,"y":0.9,"d":"hayt","c":"4"},{"x":-2.9,"y":0.7,"d":"hayt","c":"4"},{"x":-2.6,"y":0.9,"d":"hayt","c":"4"},{"x":-3.3,"y":0.4,"d":"pahc","c":"4"},{"x":-3.4,"y":0.1,"d":"pahc","c":"4"},{"x":-3.2,"y":0,"d":"hayt","c":"4"},{"x":-3,"y":0.1,"d":"hayt","c":"4"},{"x":-2.8,"y":0.3,"d":"pahc","c":"4"},{"x":-2.6,"y":0.5,"d":"pahc","c":"4"},{"x":-2.4,"y":0.6,"d":"pahc","c":"4"},{"x":-2.8,"y":-0.1,"d":"hayt","c":"4"},{"x":-2.5,"y":-0.1,"d":"hayt","c":"4"},{"x":-2.4,"y":-0.3,"d":"hayt","c":"4"},{"x":-2.2,"y":-0.1,"d":"hayt","c":"4"},{"x":-2.1,"y":0.5,"d":"hayt","c":"4"},{"x":-2,"y":0.2,"d":"hayt","c":"4"},{"x":-1.8,"y":-0.1,"d":"hayt","c":"4"},{"x":-2.6,"y":-0.4,"d":"hayt","c":"4"},
{"x":-2.4,"y":1.1,"d":"hayt","c":"3"},{"x":-2.3,"y":1.2,"d":"hayt","c":"3"},{"x":-1.1,"y":3,"d":"melw","c":"3"},{"x":-0.9,"y":2.9,"d":"melw","c":"3"},{"x":-1,"y":2.7,"d":"qunz","c":"3"},{"x":-1.3,"y":2.7,"d":"qunz","c":"3"},{"x":-0.8,"y":2.6,"d":"melw","c":"3"},{"x":-0.4,"y":2.6,"d":"melw","c":"3"},{"x":-0.2,"y":2.7,"d":"melw","c":"3"},{"x":-1.4,"y":2.2,"d":"melw","c":"3"},{"x":-1,"y":2.2,"d":"melw","c":"3"},{"x":-0.7,"y":2.1,"d":"melw","c":"3"},{"x":-1.2,"y":2,"d":"melw","c":"3"},{"x":-0.3,"y":2.4,"d":"melw","c":"3"},{"x":-0.1,"y":2.2,"d":"melw","c":"3"},{"x":0,"y":2.5,"d":"qunz","c":"3"},{"x":0.3,"y":2.6,"d":"melw","c":"3"},{"x":-0.9,"y":1.8,"d":"qunz","c":"3"},{"x":-0.6,"y":1.7,"d":"qunz","c":"3"},{"x":-0.3,"y":1.8,"d":"melw","c":"3"},{"x":-0.1,"y":1.6,"d":"melw","c":"3"},{"x":-1.5,"y":1.5,"d":"melw","c":"3"},{"x":-1.3,"y":1.4,"d":"melw","c":"3"},{"x":-0.9,"y":1.3,"d":"melw","c":"3"},{"x":-0.5,"y":1.2,"d":"melw","c":"3"},{"x":-0.3,"y":1.5,"d":"melw","c":"3"},{"x":0.1,"y":1.3,"d":"melw","c":"3"},{"x":-1.1,"y":1,"d":"melw","c":"3"},{"x":-0.7,"y":0.8,"d":"melw","c":"3"},{"x":-0.4,"y":0.6,"d":"qunz","c":"3"},{"x":-0.2,"y":0.9,"d":"melw","c":"3"},{"x":0.1,"y":1,"d":"qunz","c":"3"},{"x":0.2,"y":0.7,"d":"qunz","c":"3"},{"x":0.4,"y":1.2,"d":"qunz","c":"3"},{"x":0.5,"y":0.9,"d":"qunz","c":"3"},{"x":0.7,"y":1.1,"d":"qunz","c":"3"},{"x":0.7,"y":1.6,"d":"melw","c":"3"},{"x":-0.7,"y":3.4,"d":"qunz","c":"3"},{"x":-0.4,"y":3.6,"d":"melw","c":"3"},{"x":-0.1,"y":3.6,"d":"qunz","c":"3"},{"x":0,"y":3.7,"d":"qunz","c":"3"},{"x":0.1,"y":3.4,"d":"qunz","c":"3"},{"x":-0.1,"y":3.2,"d":"qunz","c":"3"},
{"x":0,"y":0.5,"d":"qunz","c":"2"},{"x":0.1,"y":0.3,"d":"qunz","c":"2"},{"x":0.2,"y":0.1,"d":"qunz","c":"2"},{"x":0.5,"y":0.2,"d":"qunz","c":"2"},{"x":0.6,"y":0,"d":"qunz","c":"2"},{"x":0.9,"y":0.4,"d":"qunz","c":"2"},{"x":1.8,"y":1.3,"d":"qunz","c":"2"},{"x":2,"y":1.2,"d":"melw","c":"2"},{"x":2.2,"y":1.1,"d":"melw","c":"2"},{"x":2.4,"y":1.3,"d":"qunz","c":"2"},{"x":2.6,"y":1.5,"d":"qunz","c":"2"},{"x":2.9,"y":1.6,"d":"melw","c":"2"},{"x":3.1,"y":1.7,"d":"naah","c":"2"},{"x":2.8,"y":1.1,"d":"melw","c":"2"},{"x":3.3,"y":1.6,"d":"naah","c":"2"},{"x":3.5,"y":1.7,"d":"vils","c":"2"},{"x":3.2,"y":1.2,"d":"melw","c":"2"},{"x":2.5,"y":0.9,"d":"qunz","c":"2"},{"x":3,"y":0.8,"d":"melw","c":"2"},{"x":2.2,"y":0.7,"d":"melw","c":"2"},{"x":2.7,"y":0.6,"d":"qunz","c":"2"},{"x":3.3,"y":0.7,"d":"qunz","c":"2"},{"x":3.6,"y":0.9,"d":"melw","c":"2"},{"x":2.1,"y":0.4,"d":"melw","c":"2"},{"x":2.4,"y":0.3,"d":"melw","c":"2"},{"x":1.9,"y":0.5,"d":"qunz","c":"2"},{"x":2.8,"y":0.4,"d":"qunz","c":"2"},{"x":1.6,"y":0.1,"d":"melw","c":"2"},{"x":1.8,"y":-0.1,"d":"melw","c":"2"},{"x":2,"y":-0.3,"d":"melw","c":"2"},{"x":1.4,"y":-0.3,"d":"qunz","c":"2"},{"x":1.6,"y":-0.5,"d":"qunz","c":"2"},{"x":2.1,"y":-0.2,"d":"melw","c":"2"},{"x":2.3,"y":0,"d":"melw","c":"2"},
{"x":1.1,"y":3.85,"d":"qunz","c":"5"},{"x":1.4,"y":3.9,"d":"qunz","c":"5"},{"x":1.5,"y":3.8,"d":"melw","c":"5"},{"x":1.2,"y":3.6,"d":"melw","c":"5"},{"x":0.9,"y":3.5,"d":"melw","c":"5"},{"x":1.4,"y":3.5,"d":"melw","c":"5"},{"x":0.8,"y":3.3,"d":"melw","c":"5"},{"x":1,"y":3.2,"d":"qunz","c":"5"},{"x":1.3,"y":3.3,"d":"melw","c":"5"},{"x":0.7,"y":3.1,"d":"melw","c":"5"},{"x":1.7,"y":3.1,"d":"melw","c":"5"},{"x":1,"y":2.9,"d":"qunz","c":"5"},{"x":1.5,"y":2.9,"d":"melw","c":"5"},{"x":1.8,"y":2.8,"d":"melw","c":"5"},{"x":1.9,"y":2.7,"d":"melw","c":"5"},{"x":1.3,"y":2.8,"d":"qunz","c":"5"},
{"x":3.7,"y":0.4,"d":"naah","c":"0"},{"x":3.9,"y":0.45,"d":"naah","c":"0"},{"x":4.1,"y":0.35,"d":"naah","c":"0"},{"x":4.5,"y":0.3,"d":"naah","c":"0"},{"x":5,"y":0.3,"d":"naah","c":"0"},{"x":3.8,"y":0.2,"d":"vils","c":"0"},{"x":4,"y":0.1,"d":"vils","c":"0"},{"x":3.7,"y":0,"d":"vils","c":"0"},{"x":4.2,"y":0.1,"d":"naah","c":"0"},{"x":4.4,"y":0.1,"d":"naah","c":"0"},{"x":4.7,"y":0.1,"d":"naah","c":"0"},{"x":4.9,"y":0,"d":"naah","c":"0"},{"x":5.1,"y":0.05,"d":"naah","c":"0"},{"x":5.4,"y":0.2,"d":"naah","c":"0"},{"x":3.9,"y":-0.1,"d":"vils","c":"0"},{"x":4.2,"y":-0.1,"d":"vils","c":"0"},{"x":3.8,"y":-0.2,"d":"vils","c":"0"},{"x":4.5,"y":-0.2,"d":"naah","c":"0"},{"x":5,"y":-0.2,"d":"vils","c":"0"},{"x":4.1,"y":-0.4,"d":"naah","c":"0"},{"x":4.6,"y":-0.4,"d":"vils","c":"0"},{"x":4.8,"y":-0.5,"d":"vils","c":"0"},{"x":3.6,"y":-0.6,"d":"vils","c":"0"},{"x":4.6,"y":-0.9,"d":"naah","c":"0"},{"x":5,"y":-0.9,"d":"naah","c":"0"},{"x":4.1,"y":-1.1,"d":"naah","c":"0"},{"x":3.1,"y":-1.2,"d":"vils","c":"0"},{"x":3.5,"y":-1.2,"d":"vils","c":"0"},{"x":3.9,"y":-1.2,"d":"vils","c":"0"},{"x":4.3,"y":-1.2,"d":"vils","c":"0"},{"x":4.7,"y":-1.1,"d":"naah","c":"0"},{"x":3.4,"y":-1.5,"d":"vils","c":"0"},{"x":3.9,"y":-1.4,"d":"vils","c":"0"},{"x":4.2,"y":-1.4,"d":"vils","c":"0"},{"x":4.6,"y":-1.4,"d":"naah","c":"0"},{"x":5,"y":-1.4,"d":"naah","c":"0"},{"x":3.2,"y":-1.7,"d":"vils","c":"0"},{"x":3.6,"y":-1.7,"d":"vils","c":"0"},{"x":4,"y":-1.7,"d":"naah","c":"0"},{"x":4.4,"y":-1.6,"d":"naah","c":"0"},{"x":4.8,"y":-1.7,"d":"naah","c":"0"},{"x":5.1,"y":-1.7,"d":"naah","c":"0"},{"x":3,"y":-1.9,"d":"vils","c":"0"},{"x":3.3,"y":-1.9,"d":"vils","c":"0"},{"x":3.7,"y":-1.9,"d":"vils","c":"0"},{"x":4.2,"y":-1.9,"d":"naah","c":"0"},{"x":4.6,"y":-1.9,"d":"naah","c":"0"},{"x":4.9,"y":-1.9,"d":"naah","c":"0"},{"x":3.2,"y":-2.1,"d":"naah","c":"0"},{"x":3.5,"y":-2,"d":"naah","c":"0"},{"x":3.1,"y":-2.2,"d":"vils","c":"0"},{"x":3.4,"y":-2.3,"d":"naah","c":"0"},{"x":3.6,"y":-2.2,"d":"naah","c":"0"},{"x":3.9,"y":-2.1,"d":"naah","c":"0"},{"x":3.3,"y":-2.5,"d":"naah","c":"0"},{"x":3.6,"y":-2.5,"d":"naah","c":"0"},{"x":3.7,"y":-2.65,"d":"naah","c":"0"},{"x":4,"y":-2.4,"d":"naah","c":"0"},{"x":4.2,"y":-2.5,"d":"naah","c":"0"},{"x":-0.3,"y":-1.9,"d":"melw","c":"1"},{"x":-0.2,"y":-2.2,"d":"naah","c":"0"},{"x":-0.2,"y":-0.7,"d":"melw","c":"2"}],
"e":[{"x":-4.2,"y":-2.3,"d":"hayt","c":"0"},{"x":-3.9,"y":-2.4,"d":"hayt","c":"0"},{"x":-4.1,"y":-2.6,"d":"pahc","c":"0"},{"x":-4.3,"y":-2.5,"d":"pahc","c":"0"},{"x":-3.9,"y":-2.6,"d":"pahc","c":"0"},{"x":-3.7,"y":-2.6,"d":"pahc","c":"0"},{"x":-4.1,"y":-2.9,"d":"hayt","c":"0"},{"x":-3.8,"y":-2.9,"d":"hayt","c":"0"},{"x":-3.7,"y":-3.1,"d":"pahc","c":"0"},{"x":-4,"y":-3.2,"d":"hayt","c":"0"},{"x":-3.6,"y":-3.3,"d":"hayt","c":"0"},{"x":-3.3,"y":-2.1,"d":"hayt","c":"0"},{"x":-3.1,"y":-2.3,"d":"hayt","c":"0"},{"x":-2.9,"y":-2,"d":"hayt","c":"0"},{"x":-2.7,"y":-2.3,"d":"hayt","c":"0"},{"x":-3.3,"y":-2.4,"d":"hayt","c":"0"},{"x":-2.5,"y":-2.4,"d":"pahc","c":"0"},{"x":-2.9,"y":-2.6,"d":"hayt","c":"0"},{"x":-2.6,"y":-2.7,"d":"hayt","c":"0"},{"x":-2.3,"y":-2.8,"d":"hayt","c":"0"},{"x":-2.1,"y":-2.8,"d":"hayt","c":"0"},{"x":-2,"y":-2.6,"d":"pahc","c":"0"},{"x":-1.8,"y":-2.5,"d":"hayt","c":"0"},{"x":-1.4,"y":-2.8,"d":"pahc","c":"0"},{"x":-1.2,"y":-3,"d":"qunz","c":"0"},{"x":-1.5,"y":-3.1,"d":"hayt","c":"0"},{"x":-1.7,"y":-3.3,"d":"pahc","c":"0"},{"x":-1.9,"y":-3.2,"d":"pahc","c":"0"},{"x":-2.2,"y":-3.3,"d":"pahc","c":"0"},{"x":-1.6,"y":-3.6,"d":"pahc","c":"0"},{"x":-2,"y":-3.6,"d":"hayt","c":"0"},{"x":-2.4,"y":-3.5,"d":"hayt","c":"0"},{"x":-2.7,"y":-3.2,"d":"hayt","c":"0"},{"x":-3.1,"y":-3.1,"d":"hayt","c":"0"},{"x":-3.4,"y":-3.5,"d":"hayt","c":"0"},{"x":-3.7,"y":-3.8,"d":"hayt","c":"0"},{"x":-3.9,"y":-3.9,"d":"hayt","c":"0"},{"x":-3.6,"y":-4,"d":"hayt","c":"0"},{"x":-3.3,"y":-3.9,"d":"hayt","c":"0"},{"x":-3,"y":-3.8,"d":"pahc","c":"0"},{"x":-2.7,"y":-4,"d":"pahc","c":"0"},{"x":-3.8,"y":-4.2,"d":"hayt","c":"0"},{"x":-3.5,"y":-4.3,"d":"hayt","c":"0"},{"x":-3.2,"y":-4.2,"d":"pahc","c":"0"},{"x":-2.9,"y":-4.4,"d":"hayt","c":"0"},{"x":-2.6,"y":-4.2,"d":"pahc","c":"0"},{"x":-3.4,"y":-4.6,"d":"hayt","c":"0"},{"x":-3.1,"y":-4.5,"d":"hayt","c":"0"},{"x":-2.3,"y":-4.3,"d":"pahc","c":"0"},{"x":-2,"y":-4,"d":"hayt","c":"0"},{"x":-2.2,"y":-4.6,"d":"hayt","c":"0"},
{"x":-3.2,"y":2,"d":"vils","c":"1"},{"x":-2.9,"y":1.9,"d":"vils","c":"1"},{"x":-2.6,"y":1.95,"d":"vils","c":"1"},{"x":-2.4,"y":2,"d":"vils","c":"1"},{"x":-2.8,"y":1.7,"d":"vils","c":"1"},{"x":-2.5,"y":1.8,"d":"naah","c":"1"},{"x":-2.3,"y":1.7,"d":"naah","c":"1"},{"x":-3.3,"y":1.5,"d":"vils","c":"1"},{"x":-3,"y":1.5,"d":"vils","c":"1"},{"x":-3.5,"y":1.6,"d":"vils","c":"1"},{"x":-2.7,"y":1.4,"d":"vils","c":"1"},{"x":-3.8,"y":1.6,"d":"naah","c":"1"},{"x":-4,"y":1.4,"d":"naah","c":"1"},{"x":-3.7,"y":1.3,"d":"naah","c":"1"},{"x":-3.9,"y":1.2,"d":"naah","c":"1"},{"x":-3.6,"y":1.2,"d":"naah","c":"1"},{"x":-2.9,"y":1.1,"d":"naah","c":"1"},{"x":-2.6,"y":1.1,"d":"naah","c":"1"},{"x":-2.2,"y":1.1,"d":"vils","c":"1"},{"x":-3.2,"y":1,"d":"vils","c":"1"},{"x":-3.4,"y":0.9,"d":"naah","c":"1"},{"x":-4,"y":0.7,"d":"naah","c":"1"},{"x":-3.7,"y":0.6,"d":"naah","c":"1"},{"x":-3.3,"y":0.5,"d":"vils","c":"1"},{"x":-3,"y":0.5,"d":"vils","c":"1"},{"x":-2.7,"y":0.4,"d":"vils","c":"1"},{"x":-2.5,"y":0.3,"d":"vils","c":"1"},{"x":-3.6,"y":0.3,"d":"vils","c":"1"},{"x":-3.8,"y":0.1,"d":"naah","c":"1"},{"x":-3.3,"y":-0.1,"d":"naah","c":"1"},{"x":-2.9,"y":-0.1,"d":"vils","c":"1"},{"x":-2.4,"y":0.1,"d":"naah","c":"1"},{"x":-3.4,"y":-0.5,"d":"naah","c":"1"},{"x":-2.2,"y":0.7,"d":"vils","c":"1"},{"x":-2.2,"y":-0.6,"d":"melw","c":"1"},{"x":-2,"y":-0.9,"d":"melw","c":"1"},{"x":-2.3,"y":-1.1,"d":"melw","c":"1"},{"x":-2.5,"y":-1.3,"d":"melw","c":"1"},{"x":-2.1,"y":-1.3,"d":"melw","c":"1"},{"x":-1.8,"y":-1,"d":"melw","c":"1"},{"x":-1.7,"y":-1.2,"d":"melw","c":"1"},{"x":-1.9,"y":-1.5,"d":"melw","c":"1"},{"x":-1.6,"y":-1.5,"d":"melw","c":"1"},{"x":-1.3,"y":-1.6,"d":"melw","c":"1"},{"x":-1.6,"y":-1.9,"d":"melw","c":"1"},{"x":-1.3,"y":-2.1,"d":"melw","c":"1"},
{"x":-0.5,"y":1.4,"d":"qunz","c":"3"},{"x":-0.4,"y":1.1,"d":"melw","c":"3"},{"x":-0.1,"y":1,"d":"qunz","c":"3"},{"x":-0.5,"y":0.8,"d":"melw","c":"3"},{"x":-0.2,"y":0.7,"d":"melw","c":"3"},{"x":0.4,"y":1.1,"d":"melw","c":"3"},{"x":0.1,"y":0.9,"d":"melw","c":"3"},{"x":-1.2,"y":0.5,"d":"qunz","c":"3"},{"x":-0.9,"y":0.6,"d":"melw","c":"3"},{"x":-0.7,"y":0.4,"d":"qunz","c":"3"},{"x":-0.4,"y":0.5,"d":"qunz","c":"3"},{"x":-0.1,"y":0.5,"d":"qunz","c":"3"},{"x":0.1,"y":0.4,"d":"qunz","c":"3"},{"x":-1,"y":0.2,"d":"qunz","c":"3"},{"x":-0.6,"y":0.2,"d":"qunz","c":"3"},{"x":-0.2,"y":0.2,"d":"qunz","c":"3"},{"x":0,"y":0.3,"d":"qunz","c":"3"},{"x":0.1,"y":0,"d":"qunz","c":"3"},{"x":-0.3,"y":0,"d":"qunz","c":"3"},{"x":-1.6,"y":0.5,"d":"melw","c":"3"},{"x":-1.8,"y":0.2,"d":"melw","c":"3"},{"x":0.5,"y":0.3,"d":"qunz","c":"3"},{"x":-1.4,"y":-0.3,"d":"qunz","c":"3"},{"x":-1.1,"y":-0.3,"d":"qunz","c":"3"},{"x":-2.2,"y":-0.5,"d":"qunz","c":"3"},{"x":-1.8,"y":-0.6,"d":"qunz","c":"3"},{"x":-1.5,"y":-0.6,"d":"melw","c":"3"},{"x":-0.5,"y":-0.5,"d":"qunz","c":"3"},{"x":-0.2,"y":-0.6,"d":"qunz","c":"3"},{"x":-1.2,"y":-0.7,"d":"melw","c":"3"},{"x":-0.8,"y":-0.9,"d":"qunz","c":"3"},{"x":-0.4,"y":-0.9,"d":"qunz","c":"3"},{"x":-1.4,"y":-0.9,"d":"qunz","c":"3"},{"x":-1.1,"y":-1.1,"d":"melw","c":"3"},{"x":-0.7,"y":-1.2,"d":"qunz","c":"3"},{"x":-0.4,"y":-1.2,"d":"qunz","c":"3"},{"x":-2.7,"y":-1.3,"d":"melw","c":"3"},{"x":-1.3,"y":-1.4,"d":"melw","c":"3"},{"x":-1,"y":-1.5,"d":"melw","c":"3"},{"x":-0.7,"y":-1.5,"d":"melw","c":"3"},{"x":-1.1,"y":-0.1,"d":"qunz","c":"3"},
{"x":0.8,"y":1.2,"d":"melw","c":"4"},{"x":1.1,"y":1.4,"d":"qunz","c":"4"},{"x":1.5,"y":1.5,"d":"qunz","c":"4"},{"x":1.9,"y":1.7,"d":"qunz","c":"4"},{"x":2.3,"y":1.9,"d":"qunz","c":"4"},{"x":2.6,"y":2.1,"d":"qunz","c":"4"},{"x":2.3,"y":1.1,"d":"qunz","c":"4"},
{"x":2.7,"y":2.1,"d":"melw","c":"2"},{"x":3,"y":2.3,"d":"qunz","c":"2"},{"x":3.2,"y":2.1,"d":"qunz","c":"2"},{"x":3.1,"y":2.6,"d":"melw","c":"2"},{"x":3.4,"y":2.3,"d":"melw","c":"2"},{"x":3.6,"y":2.5,"d":"melw","c":"2"},{"x":3.5,"y":2.7,"d":"melw","c":"2"},{"x":3.8,"y":2.7,"d":"melw","c":"2"},{"x":3.9,"y":2.5,"d":"qunz","c":"2"},{"x":4,"y":2.3,"d":"qunz","c":"2"},{"x":3.5,"y":2,"d":"qunz","c":"2"},{"x":3.8,"y":1.9,"d":"qunz","c":"2"},{"x":3.3,"y":1.6,"d":"melw","c":"2"},{"x":3.7,"y":1.5,"d":"melw","c":"2"},{"x":4,"y":1.4,"d":"melw","c":"2"},{"x":4.3,"y":1.6,"d":"melw","c":"2"},{"x":4.2,"y":1.3,"d":"qunz","c":"2"},{"x":4,"y":1,"d":"qunz","c":"2"},{"x":4.4,"y":1.1,"d":"qunz","c":"2"},{"x":4.7,"y":1,"d":"melw","c":"2"},{"x":4.6,"y":0.8,"d":"melw","c":"2"},{"x":5.2,"y":1.3,"d":"hayt","c":"2"},{"x":5.5,"y":1.1,"d":"hayt","c":"2"},{"x":5.7,"y":1.2,"d":"hayt","c":"2"},{"x":5.4,"y":0.9,"d":"hayt","c":"2"},{"x":5,"y":1.6,"d":"melw","c":"2"},{"x":5.2,"y":1.8,"d":"hayt","c":"2"},{"x":5.6,"y":1.9,"d":"pahc","c":"2"},{"x":5.9,"y":1.7,"d":"pahc","c":"2"},{"x":6,"y":1.4,"d":"pahc","c":"2"},{"x":5.8,"y":2,"d":"pahc","c":"2"},{"x":6.1,"y":2.1,"d":"pahc","c":"2"},{"x":6.3,"y":2,"d":"pahc","c":"2"},{"x":5.6,"y":2.5,"d":"pahc","c":"2"},{"x":5.9,"y":2.5,"d":"pahc","c":"2"},{"x":6.2,"y":2.4,"d":"pahc","c":"2"},{"x":4.9,"y":2.4,"d":"hayt","c":"2"},{"x":5.3,"y":2.3,"d":"hayt","c":"2"},
{"x":4.4,"y":2.2,"d":"hayt","c":"5"},{"x":4.7,"y":2.3,"d":"hayt","c":"5"},{"x":5,"y":2.2,"d":"hayt","c":"5"},{"x":4.6,"y":2,"d":"vils","c":"5"},{"x":4.9,"y":2,"d":"hayt","c":"5"},{"x":4.4,"y":1.9,"d":"vils","c":"5"},{"x":5.2,"y":2.1,"d":"hayt","c":"5"},
{"x":4.9,"y":4.1,"d":"vils","c":"3"},{"x":5.1,"y":4,"d":"hayt","c":"3"},{"x":4.8,"y":3.8,"d":"vils","c":"3"},{"x":5.1,"y":3.8,"d":"vils","c":"2"},{"x":5.3,"y":3.7,"d":"hayt","c":"3"},{"x":5,"y":3.6,"d":"naah","c":"2"},{"x":5.4,"y":3.6,"d":"naah","c":"3"},{"x":4.9,"y":3.4,"d":"naah","c":"2"},{"x":5.2,"y":3.4,"d":"naah","c":"2"},{"x":5.4,"y":3.3,"d":"naah","c":"3"},{"x":4.8,"y":3.2,"d":"hayt","c":"2"},{"x":5.1,"y":3,"d":"hayt","c":"2"},{"x":4.8,"y":2.9,"d":"hayt","c":"2"},{"x":5.3,"y":2.9,"d":"vils","c":"3"},{"x":5.5,"y":3.8,"d":"qunz","c":"3"}],
"f":[{"r":"0","c":"0","v":0},{"r":"0","c":"1","v":0.72},{"r":"0","c":"2","v":0.17},{"r":"0","c":"3","v":0},{"r":"0","c":"4","v":0.15},{"r":"0","c":"5","v":0.06},{"r":"1","c":"0","v":0.56},{"r":"1","c":"1","v":0.08},{"r":"1","c":"2","v":0.3},{"r":"1","c":"3","v":0},{"r":"1","c":"4","v":0.13},{"r":"1","c":"5","v":0.06},{"r":"2","c":"0","v":0.06},{"r":"2","c":"1","v":0.2},{"r":"2","c":"2","v":0.29},{"r":"2","c":"3","v":0.29},{"r":"2","c":"4","v":0.28},{"r":"2","c":"5","v":0.05},{"r":"3","c":"0","v":0.06},{"r":"3","c":"1","v":0.15},{"r":"3","c":"2","v":0.3},{"r":"3","c":"3","v":0.43},{"r":"3","c":"4","v":0.13},{"r":"3","c":"5","v":0.17},{"r":"4","c":"0","v":0.85},{"r":"4","c":"1","v":0},{"r":"4","c":"2","v":0.12},{"r":"4","c":"3","v":0},{"r":"4","c":"4","v":0.07},{"r":"4","c":"5","v":0.1},{"r":"5","c":"0","v":0},{"r":"5","c":"1","v":0},{"r":"5","c":"2","v":0},{"r":"5","c":"3","v":0.82},{"r":"5","c":"4","v":0.22},{"r":"5","c":"5","v":0}],
"g":[{"r":"0","c":"0","v":0},{"r":"0","c":"1","v":0.62},{"r":"0","c":"2","v":0},{"r":"0","c":"3","v":0},{"r":"0","c":"4","v":0},{"r":"0","c":"5","v":0},{"r":"1","c":"0","v":0.17},{"r":"1","c":"1","v":0},{"r":"1","c":"2","v":0.05},{"r":"1","c":"3","v":0},{"r":"1","c":"4","v":0},{"r":"1","c":"5","v":0},{"r":"2","c":"0","v":0},{"r":"2","c":"1","v":0},{"r":"2","c":"2","v":0.05},{"r":"2","c":"3","v":0.2},{"r":"2","c":"4","v":0},{"r":"2","c":"5","v":0.11},{"r":"3","c":"0","v":0},{"r":"3","c":"1","v":0},{"r":"3","c":"2","v":0},{"r":"3","c":"3","v":0.18},{"r":"3","c":"4","v":0},{"r":"3","c":"5","v":0.16},{"r":"4","c":"0","v":0.26},{"r":"4","c":"1","v":0},{"r":"4","c":"2","v":0},{"r":"4","c":"3","v":0},{"r":"4","c":"4","v":0},{"r":"4","c":"5","v":0.04},{"r":"5","c":"0","v":0},{"r":"5","c":"1","v":0},{"r":"5","c":"2","v":0},{"r":"5","c":"3","v":0.4},{"r":"5","c":"4","v":0},{"r":"5","c":"5","v":0.06}],
"h":[{"v":"raw_GO","y":0,"lo":167,"hi":187},{"v":"raw_GO","y":-0.3,"lo":166,"hi":188},{"v":"raw_GO","y":-0.7,"lo":161,"hi":193},{"v":"raw_GO","y":-1,"lo":153,"hi":201},{"v":"raw_GO","y":-1.5,"lo":145,"hi":209},{"v":"raw_GO","y":-2,"lo":139,"hi":215},{"v":"raw_GO","y":-2.5,"lo":140,"hi":214},{"v":"raw_GO","y":-3,"lo":147,"hi":207},{"v":"raw_GO","y":-3.5,"lo":157,"hi":197},{"v":"raw_GO","y":-4,"lo":162,"hi":192},{"v":"raw_GO","y":-4.5,"lo":168,"hi":186},{"v":"raw_GO","y":-5,"lo":172,"hi":182},{"v":"raw_GO","y":-5.5,"lo":174,"hi":180},{"v":"raw_GO","y":-6,"lo":175.5,"hi":178.5},{"v":"raw_GO","y":-6.85,"lo":176.5,"hi":177.5},
{"v":"noNoise_GO","y":0,"lo":344,"hi":364},{"v":"noNoise_GO","y":-0.2,"lo":342,"hi":366},{"v":"noNoise_GO","y":-0.5,"lo":336,"hi":372},{"v":"noNoise_GO","y":-0.9,"lo":321,"hi":387},{"v":"noNoise_GO","y":-1.3,"lo":309,"hi":399},{"v":"noNoise_GO","y":-1.6,"lo":306,"hi":402},{"v":"noNoise_GO","y":-1.9,"lo":312,"hi":396},{"v":"noNoise_GO","y":-2.2,"lo":326,"hi":382},{"v":"noNoise_GO","y":-2.7,"lo":329,"hi":379},{"v":"noNoise_GO","y":-3.2,"lo":334,"hi":374},{"v":"noNoise_GO","y":-3.7,"lo":339,"hi":369},{"v":"noNoise_GO","y":-4.3,"lo":344,"hi":364},{"v":"noNoise_GO","y":-5,"lo":349,"hi":359},{"v":"noNoise_GO","y":-5.5,"lo":352,"hi":356},{"v":"noNoise_GO","y":-6,"lo":353,"hi":355},{"v":"noNoise_GO","y":-7,"lo":353.5,"hi":354.5},
{"v":"raw_path","y":-0.25,"lo":527,"hi":535},{"v":"raw_path","y":-0.5,"lo":528,"hi":534},{"v":"raw_path","y":-1,"lo":528,"hi":534},{"v":"raw_path","y":-1.4,"lo":526,"hi":536},{"v":"raw_path","y":-1.7,"lo":519,"hi":543},{"v":"raw_path","y":-2,"lo":509,"hi":553},{"v":"raw_path","y":-2.5,"lo":500,"hi":562},{"v":"raw_path","y":-2.8,"lo":502,"hi":560},{"v":"raw_path","y":-3.2,"lo":513,"hi":549},{"v":"raw_path","y":-3.7,"lo":519,"hi":543},{"v":"raw_path","y":-4.2,"lo":513,"hi":549},{"v":"raw_path","y":-4.8,"lo":498,"hi":564},{"v":"raw_path","y":-5.2,"lo":491,"hi":571},{"v":"raw_path","y":-5.5,"lo":497,"hi":565},{"v":"raw_path","y":-5.9,"lo":509,"hi":553},{"v":"raw_path","y":-6.3,"lo":523,"hi":539},{"v":"raw_path","y":-6.6,"lo":528,"hi":534},
{"v":"noNoise_path","y":-0.3,"lo":701,"hi":715},{"v":"noNoise_path","y":-0.6,"lo":698,"hi":718},{"v":"noNoise_path","y":-0.9,"lo":690,"hi":726},{"v":"noNoise_path","y":-1.2,"lo":676,"hi":740},{"v":"noNoise_path","y":-1.5,"lo":658,"hi":758},{"v":"noNoise_path","y":-1.8,"lo":650,"hi":766},{"v":"noNoise_path","y":-2.1,"lo":656,"hi":760},{"v":"noNoise_path","y":-2.4,"lo":676,"hi":740},{"v":"noNoise_path","y":-2.7,"lo":688,"hi":728},{"v":"noNoise_path","y":-3.2,"lo":690,"hi":726},{"v":"noNoise_path","y":-3.7,"lo":693,"hi":723},{"v":"noNoise_path","y":-4.2,"lo":696,"hi":720},{"v":"noNoise_path","y":-4.8,"lo":699,"hi":717},{"v":"noNoise_path","y":-5.3,"lo":702,"hi":714},{"v":"noNoise_path","y":-5.8,"lo":705,"hi":711},{"v":"noNoise_path","y":-6.7,"lo":707,"hi":709},
{"v":"raw_reg","y":0,"lo":835,"hi":935},{"v":"raw_reg","y":-0.2,"lo":815,"hi":955},{"v":"raw_reg","y":-0.5,"lo":805,"hi":965},{"v":"raw_reg","y":-0.7,"lo":807,"hi":963},{"v":"raw_reg","y":-1,"lo":825,"hi":945},{"v":"raw_reg","y":-1.4,"lo":847,"hi":923},{"v":"raw_reg","y":-1.8,"lo":865,"hi":905},{"v":"raw_reg","y":-2.3,"lo":875,"hi":895},{"v":"raw_reg","y":-2.7,"lo":878,"hi":892},{"v":"raw_reg","y":-3.2,"lo":879,"hi":891},{"v":"raw_reg","y":-3.7,"lo":880,"hi":890},{"v":"raw_reg","y":-4.1,"lo":880,"hi":890},{"v":"raw_reg","y":-4.5,"lo":876,"hi":894},{"v":"raw_reg","y":-4.8,"lo":876,"hi":894},{"v":"raw_reg","y":-5.2,"lo":881,"hi":889},{"v":"raw_reg","y":-5.6,"lo":883,"hi":887},{"v":"raw_reg","y":-6.4,"lo":884.5,"hi":885.5},
{"v":"noNoise_reg","y":0,"lo":1032,"hi":1092},{"v":"noNoise_reg","y":-0.2,"lo":1007,"hi":1117},{"v":"noNoise_reg","y":-0.5,"lo":992,"hi":1132},{"v":"noNoise_reg","y":-0.75,"lo":990,"hi":1134},{"v":"noNoise_reg","y":-1,"lo":1000,"hi":1124},{"v":"noNoise_reg","y":-1.4,"lo":1022,"hi":1102},{"v":"noNoise_reg","y":-1.8,"lo":1040,"hi":1084},{"v":"noNoise_reg","y":-2.2,"lo":1050,"hi":1074},{"v":"noNoise_reg","y":-2.8,"lo":1053,"hi":1071},{"v":"noNoise_reg","y":-3.5,"lo":1055,"hi":1069},{"v":"noNoise_reg","y":-4,"lo":1056,"hi":1068},{"v":"noNoise_reg","y":-4.3,"lo":1053,"hi":1071},{"v":"noNoise_reg","y":-4.5,"lo":1051,"hi":1073},{"v":"noNoise_reg","y":-4.8,"lo":1055,"hi":1069},{"v":"noNoise_reg","y":-5.2,"lo":1059,"hi":1065},{"v":"noNoise_reg","y":-5.96,"lo":1061.5,"hi":1062.5}]
},
"vconcat":[
{"bounds":"flush","spacing":0,"resolve":{"scale":{"color":"independent","fill":"independent"},"legend":{"color":"independent","fill":"independent"}},"hconcat":[
{"data":{"values":[{"a":1}]},"mark":{"type":"point","opacity":0},"width":34,"height":1},
{"width":293,"height":168,"title":{"text":"A","dx":-30,"dy":24},"data":{"name":"a"},"layer":[
{"mark":{"type":"line","interpolate":"monotone","strokeWidth":2.2,"opacity":0.15},"encoding":{"x":{"field":"x","type":"quantitative","scale":{"domain":[-0.3,8.2],"nice":false},"axis":{"values":[0,1,2,3,4,5,6,7,8],"title":"log2(abn)","labelExpr":"datum.value%2==0?datum.label:''","labelPadding":2,"titlePadding":1}},"y":{"field":"y","type":"quantitative","scale":{"domain":[-0.05,1.05],"nice":false},"axis":{"values":[0,0.125,0.25,0.375,0.5,0.625,0.75,0.875,1],"format":".2f","labelExpr":"(datum.value*4)%1==0?datum.label:''","title":"Pearson correlation","titleFontWeight":"bold","titleFontSize":10,"labelPadding":4,"titlePadding":1}},"color":{"field":"s","type":"nominal","scale":{"domain":["C1","C2","C3","C4","C5"],"range":["#F8766D","#A3A500","#00BF7D","#00B0F6","#E76BF3"]},"legend":{"orient":"none","legendX":270,"legendY":2,"title":"cell","titleFontSize":10,"labelFontSize":7,"symbolType":"stroke","symbolSize":40,"symbolStrokeWidth":1,"symbolOpacity":1,"rowPadding":0,"labelOffset":3,"titlePadding":3}}}},
{"mark":{"type":"line","interpolate":"monotone","strokeWidth":0.9},"encoding":{"x":{"field":"x","type":"quantitative"},"y":{"field":"y","type":"quantitative"},"color":{"field":"s","type":"nominal"}}},
{"mark":{"type":"rule","color":"#999999","strokeWidth":1},"encoding":{"y":{"datum":0.25}}}]},
{"data":{"values":[{"a":1}]},"mark":{"type":"point","opacity":0},"width":50,"height":1},
{"width":295,"height":168,"title":{"text":"B","dx":-34,"dy":24},"data":{"name":"b"},"layer":[
{"mark":{"type":"line","interpolate":"monotone","strokeWidth":2.8,"opacity":0.2},"encoding":{"x":{"field":"x","type":"quantitative","scale":{"domain":[-0.32,7.29],"nice":false},"axis":{"values":[0,1,2,3,4,5,6,7],"title":"log2(abn)","labelExpr":"datum.value%2==0?datum.label:''","labelPadding":2,"titlePadding":1}},"y":{"field":"y","type":"quantitative","scale":{"domain":[-0.05,1.05],"nice":false},"axis":{"values":[0,0.125,0.25,0.375,0.5,0.625,0.75,0.875,1],"format":".2f","labelExpr":"(datum.value*4)%1==0?datum.label:''","title":"Pearson correlation","titleFontSize":10,"labelPadding":3,"titlePadding":0}},"color":{"field":"s","type":"nominal","scale":{"domain":["hayt","melw","naah","pahc","qunz","vils"],"range":["#F8766D","#B79F00","#00BA38","#00BFC4","#619CFF","#F564E3"]},"legend":{"orient":"none","legendX":263,"legendY":112,"title":"donor","titleFontSize":10,"labelFontSize":7,"symbolType":"stroke","symbolSize":40,"symbolStrokeWidth":1,"symbolOpacity":1,"rowPadding":0,"labelOffset":3,"titlePadding":3}}}},
{"mark":{"type":"line","interpolate":"monotone","strokeWidth":0.9},"encoding":{"x":{"field":"x","type":"quantitative"},"y":{"field":"y","type":"quantitative"},"color":{"field":"s","type":"nominal"}}},
{"mark":{"type":"rule","color":"#999999","strokeWidth":1},"encoding":{"y":{"datum":0.25}}}]}
]},
{"data":{"values":[{"a":1}]},"mark":{"type":"point","opacity":0},"width":1,"height":204},
{"bounds":"flush","spacing":0,"resolve":{"scale":{"color":"independent","fill":"independent"},"legend":{"color":"independent","fill":"independent"}},"hconcat":[
{"data":{"values":[{"a":1}]},"mark":{"type":"point","opacity":0},"width":46,"height":1},
{"width":402,"height":235,"title":{"text":"C","dx":-42,"dy":21},"layer":[
{"data":{"name":"box"},"mark":{"type":"rule","color":"#666666","strokeWidth":0.7},"encoding":{"x":{"field":"b","type":"nominal","sort":null,"scale":{"type":"band","paddingInner":0,"paddingOuter":0.1,"domain":["[0,1)","[1,2)","[2,3)","[3,4)","[4,5)","[5,6)","[6,7)","[7,8)","[8,9)","[9,10)","[10,11)","[11,18)"]},"axis":{"title":"log2(abn)","labelAngle":270,"labelFontSize":10.5,"labelPadding":0,"titleFontSize":10.5,"titlePadding":7,"grid":true}},"xOffset":{"field":"g","type":"nominal","scale":{"paddingInner":0,"paddingOuter":0.8,"domain":["G1","G2","G3","G4","G5"]}},"y":{"field":"lo","type":"quantitative","scale":{"domain":[-1.1,1.1],"nice":false},"axis":{"values":[-1,-0.75,-0.5,-0.25,0,0.25,0.5,0.75,1],"format":".1f","labelExpr":"(datum.value*2)%1==0?datum.label:''","labelFontSize":10.5,"labelPadding":5,"title":"Pearson correlation","titleFontSize":10.5,"titlePadding":2}},"y2":{"field":"hi"}}},
{"data":{"name":"seg"},"mark":{"type":"rule","color":"#333333","strokeWidth":2.8},"encoding":{"x":{"field":"b","type":"nominal"},"xOffset":{"field":"g","type":"nominal"},"y":{"field":"a","type":"quantitative"},"y2":{"field":"z"}}},
{"data":{"name":"pts"},"mark":{"type":"circle","color":"#333333","size":9,"opacity":1},"encoding":{"x":{"field":"b","type":"nominal"},"xOffset":{"field":"g","type":"nominal"},"y":{"field":"v","type":"quantitative"}}},
{"data":{"name":"box"},"mark":{"type":"bar","stroke":"#555555","strokeWidth":0.4},"encoding":{"x":{"field":"b","type":"nominal"},"xOffset":{"field":"g","type":"nominal"},"y":{"field":"q1","type":"quantitative"},"y2":{"field":"q3"},"fill":{"field":"g","type":"nominal","scale":{"domain":["G1","G2","G3","G4","G5"],"range":["#F8766D","#A3A500","#00BF7D","#00B0F6","#E76BF3"]},"legend":{"orient":"none","legendX":412,"legendY":83,"title":"group","titleFontSize":14,"labelFontSize":10,"symbolType":"square","symbolSize":45,"symbolStrokeColor":"#555555","symbolStrokeWidth":0.5,"rowPadding":0,"labelOffset":7,"titlePadding":5}}}},
{"data":{"name":"box"},"mark":{"type":"tick","orient":"horizontal","color":"#333333","size":5,"thickness":1},"encoding":{"x":{"field":"b","type":"nominal"},"xOffset":{"field":"g","type":"nominal"},"y":{"field":"m","type":"quantitative"}}}]}
]},
{"data":{"values":[{"a":1}]},"mark":{"type":"point","opacity":0},"width":1,"height":302},
{"bounds":"flush","spacing":0,"resolve":{"scale":{"color":"independent","fill":"independent"},"legend":{"color":"independent","fill":"independent"}},"hconcat":[
{"data":{"values":[{"a":1}]},"mark":{"type":"point","opacity":0},"width":28,"height":1},
{"width":135,"height":163,"title":{"text":"D","dx":-24,"dy":17},"data":{"name":"d"},"mark":{"type":"circle","size":4,"opacity":0.95},"encoding":{"x":{"field":"x","type":"quantitative","scale":{"domain":[-5.35,5.8],"nice":false},"axis":{"values":[-4.5,-3,-1.5,0,1.5,3,4.5],"labelExpr":"datum.value%3==0?datum.label:''","title":"UMAP_1","labelFontSize":5.5,"labelPadding":4,"titleFontSize":9,"titlePadding":1}},"y":{"field":"y","type":"quantitative","scale":{"domain":[-3.3,4.2],"nice":false},"axis":{"values":[-3,-2,-1,0,1,2,3,4],"labelExpr":"datum.value%2==0?datum.label:''","title":"UMAP_2","titleFontSize":9,"labelPadding":3,"titlePadding":2}},"color":{"field":"d","type":"nominal","scale":{"domain":["hayt","melw","naah","pahc","qunz","vils"],"range":["#F8766D","#B79F00","#00BA38","#00BFC4","#619CFF","#F564E3"]},"legend":{"orient":"none","legendX":107,"legendY":1,"title":"donor","titleFontSize":10,"labelFontSize":7,"symbolType":"circle","symbolSize":5,"symbolStrokeWidth":0,"rowPadding":-1.4,"labelOffset":6,"titlePadding":4}}}},
{"data":{"values":[{"a":1}]},"mark":{"type":"point","opacity":0},"width":15,"height":1},
{"width":152,"height":163,"data":{"name":"d"},"mark":{"type":"circle","size":4,"opacity":0.95},"encoding":{"x":{"field":"x","type":"quantitative","scale":{"domain":[-5.58,6.2],"nice":false},"axis":{"values":[-4.5,-3,-1.5,0,1.5,3,4.5],"labelExpr":"datum.value%3==0?datum.label:''","title":"UMAP_1","labelFontSize":5.5,"labelPadding":4,"titleFontSize":9,"titlePadding":1}},"y":{"field":"y","type":"quantitative","scale":{"domain":[-3.3,4.2],"nice":false},"axis":{"values":[-3,-2,-1,0,1,2,3,4],"labelExpr":"datum.value%2==0?datum.label:''","title":null,"labelPadding":3}},"color":{"field":"c","type":"nominal","scale":{"domain":["0","1","2","3","4","5"],"range":["#F8766D","#B79F00","#00BA38","#00BFC4","#619CFF","#F564E3"]},"legend":{"orient":"none","legendX":117,"legendY":1,"title":"cluster","titleFontSize":10,"labelFontSize":7,"symbolType":"circle","symbolSize":5,"symbolStrokeWidth":0,"rowPadding":-1.4,"labelOffset":6,"titlePadding":4}}}},
{"data":{"values":[{"a":1}]},"mark":{"type":"point","opacity":0},"width":47,"height":1},
{"width":133,"height":168,"title":{"text":"E","dx":-30,"dy":18},"data":{"name":"e"},"mark":{"type":"circle","size":4,"opacity":0.95},"encoding":{"x":{"field":"x","type":"quantitative","scale":{"domain":[-4.74,7],"nice":false},"axis":{"values":[-3.75,-2.5,-1.25,0,1.25,2.5,3.75,5,6.25],"labelExpr":"datum.value%2.5==0?format(datum.value,'.1f'):''","title":"UMAP_1","labelFontSize":5.5,"labelPadding":-2,"titleFontSize":9,"titlePadding":3}},"y":{"field":"y","type":"quantitative","scale":{"domain":[-5.1,4.47],"nice":false},"axis":{"values":[-5,-3.75,-2.5,-1.25,0,1.25,2.5,3.75],"labelExpr":"datum.value%2.5==0?format(datum.value,'.1f'):''","title":"UMAP_2","titleFontSize":9,"labelFontSize":5.5,"labelPadding":4}},"color":{"field":"d","type":"nominal","scale":{"domain":["hayt","melw","naah","pahc","qunz","vils"],"range":["#F8766D","#B79F00","#00BA38","#00BFC4","#619CFF","#F564E3"]},"legend":{"orient":"none","legendX":103,"legendY":112,"title":"donor","titleFontSize":10,"labelFontSize":7,"symbolType":"circle","symbolSize":5,"symbolStrokeWidth":0,"rowPadding":-1.4,"labelOffset":6,"titlePadding":3}}}},
{"data":{"values":[{"a":1}]},"mark":{"type":"point","opacity":0},"width":18,"height":1},
{"width":144,"height":168,"data":{"name":"e"},"mark":{"type":"circle","size":4,"opacity":0.95},"encoding":{"x":{"field":"x","type":"quantitative","scale":{"domain":[-4.94,7],"nice":false},"axis":{"values":[-3.75,-2.5,-1.25,0,1.25,2.5,3.75,5,6.25],"labelExpr":"datum.value%2.5==0?format(datum.value,'.1f'):''","title":"UMAP_1","labelFontSize":5.5,"labelPadding":-2,"titleFontSize":9,"titlePadding":3}},"y":{"field":"y","type":"quantitative","scale":{"domain":[-5.1,4.47],"nice":false},"axis":{"values":[-5,-3.75,-2.5,-1.25,0,1.25,2.5,3.75],"labelExpr":"datum.value%2.5==0?format(datum.value,'.1f'):''","title":null,"labelFontSize":5.5,"labelPadding":4}},"color":{"field":"c","type":"nominal","scale":{"domain":["0","1","2","3","4","5"],"range":["#F8766D","#B79F00","#00BA38","#00BFC4","#619CFF","#F564E3"]},"legend":{"orient":"none","legendX":112,"legendY":112,"title":"cluster","titleFontSize":10,"labelFontSize":7,"symbolType":"circle","symbolSize":5,"symbolStrokeWidth":0,"rowPadding":-1.4,"labelOffset":6,"titlePadding":3}}}}
]},
{"data":{"values":[{"a":1}]},"mark":{"type":"point","opacity":0},"width":1,"height":193},
{"bounds":"flush","spacing":0,"resolve":{"scale":{"color":"independent"},"legend":{"color":"independent"}},"hconcat":[
{"data":{"values":[{"a":1}]},"mark":{"type":"point","opacity":0},"width":25,"height":1},
{"width":222,"height":130,"title":{"text":"F","dx":-20,"dy":14},"data":{"name":"f"},"resolve":{"axis":{"x":"independent","y":"independent"}},"layer":[
{"mark":{"type":"rect"},"encoding":{"x":{"field":"c","type":"nominal","scale":{"paddingInner":0,"paddingOuter":0},"axis":{"orient":"top","title":"noNoise","labels":false,"grid":false,"titleFontSize":9,"titlePadding":1}},"y":{"field":"r","type":"nominal","scale":{"paddingInner":0,"paddingOuter":0},"axis":{"orient":"left","title":"raw","labels":false,"grid":false,"titleFontSize":9,"titlePadding":3}},"color":{"field":"v","type":"quantitative","scale":{"domain":[0,0.42,0.85],"range":["#0000ff","#eeeeee","#ff0000"],"interpolate":"lab"},"legend":{"orient":"none","legendX":225,"legendY":43,"title":null,"gradientLength":42,"gradientThickness":9,"labelFontSize":7,"labelFontWeight":"normal","labelOverlap":false,"values":[0,0.2,0.4,0.6,0.8],"labelExpr":"datum.value==0?'0':datum.label","labelOffset":1}}}},
{"mark":{"type":"rect","opacity":0},"encoding":{"x":{"field":"c","type":"nominal","axis":{"orient":"bottom","title":null,"grid":false,"labelFontSize":3,"labelAngle":0,"labelPadding":2}},"y":{"field":"r","type":"nominal","axis":{"orient":"right","title":null,"grid":false,"labelFontSize":3,"labelPadding":1}}}}]}
]},
{"data":{"values":[{"a":1}]},"mark":{"type":"point","opacity":0},"width":1,"height":24},
{"bounds":"flush","spacing":0,"hconcat":[
{"data":{"values":[{"a":1}]},"mark":{"type":"point","opacity":0},"width":306,"height":1},
{"width":365,"height":171,"title":{"text":"H","dx":-28,"dy":15},"data":{"name":"h"},"mark":{"type":"area","orient":"horizontal","interpolate":"monotone","stroke":"#666666","strokeWidth":0.5},"encoding":{"x":{"field":"lo","type":"quantitative","scale":{"domain":[72,1167],"nice":false},"axis":{"values":[177,354,531,708,885,1062],"labelExpr":"['raw_GO','noNoise_GO','raw_path','noNoise_path','raw_reg','noNoise_reg'][datum.value/177-1]","labelAngle":-45,"labelFontSize":9,"title":null,"labelPadding":2}},"x2":{"field":"hi"},"y":{"field":"y","type":"quantitative","scale":{"domain":[-7.05,0.31],"nice":false},"axis":{"values":[-7,-6,-5,-4,-3,-2,-1,0],"labelExpr":"datum.value%2==0?datum.label:''","title":"log2(precision)","titleFontSize":11,"labelFontSize":7,"labelPadding":3,"titlePadding":2,"format":"d"}},"color":{"field":"v","type":"nominal","legend":null,"scale":{"domain":["raw_GO","noNoise_GO","raw_path","noNoise_path","raw_reg","noNoise_reg"],"range":["#FF3030","#FF7256","#698B22","#9ACD32","#27408B","#436EEE"]}}}}
]},
{"data":{"values":[{"a":1}]},"mark":{"type":"point","opacity":0},"width":1,"height":122},
{"bounds":"flush","spacing":0,"resolve":{"scale":{"color":"independent"},"legend":{"color":"independent"}},"hconcat":[
{"data":{"values":[{"a":1}]},"mark":{"type":"point","opacity":0},"width":25,"height":1},
{"width":222,"height":128,"title":{"text":"G","dx":-21,"dy":18},"data":{"name":"g"},"resolve":{"axis":{"x":"independent","y":"independent"}},"layer":[
{"mark":{"type":"rect"},"encoding":{"x":{"field":"c","type":"nominal","scale":{"paddingInner":0,"paddingOuter":0},"axis":{"orient":"top","title":"noNoise","labels":false,"grid":false,"titleFontSize":9,"titlePadding":1}},"y":{"field":"r","type":"nominal","scale":{"paddingInner":0,"paddingOuter":0},"axis":{"orient":"left","title":"raw","labels":false,"grid":false,"titleFontSize":9,"titlePadding":3}},"color":{"field":"v","type":"quantitative","scale":{"domain":[0,0.31,0.62],"range":["#0000ff","#eeeeee","#ff0000"],"interpolate":"lab"},"legend":{"orient":"none","legendX":225,"legendY":40,"title":"JSI","titleFontSize":11,"gradientLength":31,"gradientThickness":9,"labelFontSize":7,"labelFontWeight":"normal","labelOverlap":false,"values":[0,0.2,0.4,0.6],"labelExpr":"datum.value==0?'0':datum.label","labelOffset":1,"titlePadding":2}}}},
{"mark":{"type":"rect","opacity":0},"encoding":{"x":{"field":"c","type":"nominal","axis":{"orient":"bottom","title":null,"grid":false,"labelFontSize":3,"labelAngle":0,"labelPadding":2}},"y":{"field":"r","type":"nominal","axis":{"orient":"right","title":null,"grid":false,"labelFontSize":3,"labelPadding":1}}}}]}
]}
]}
